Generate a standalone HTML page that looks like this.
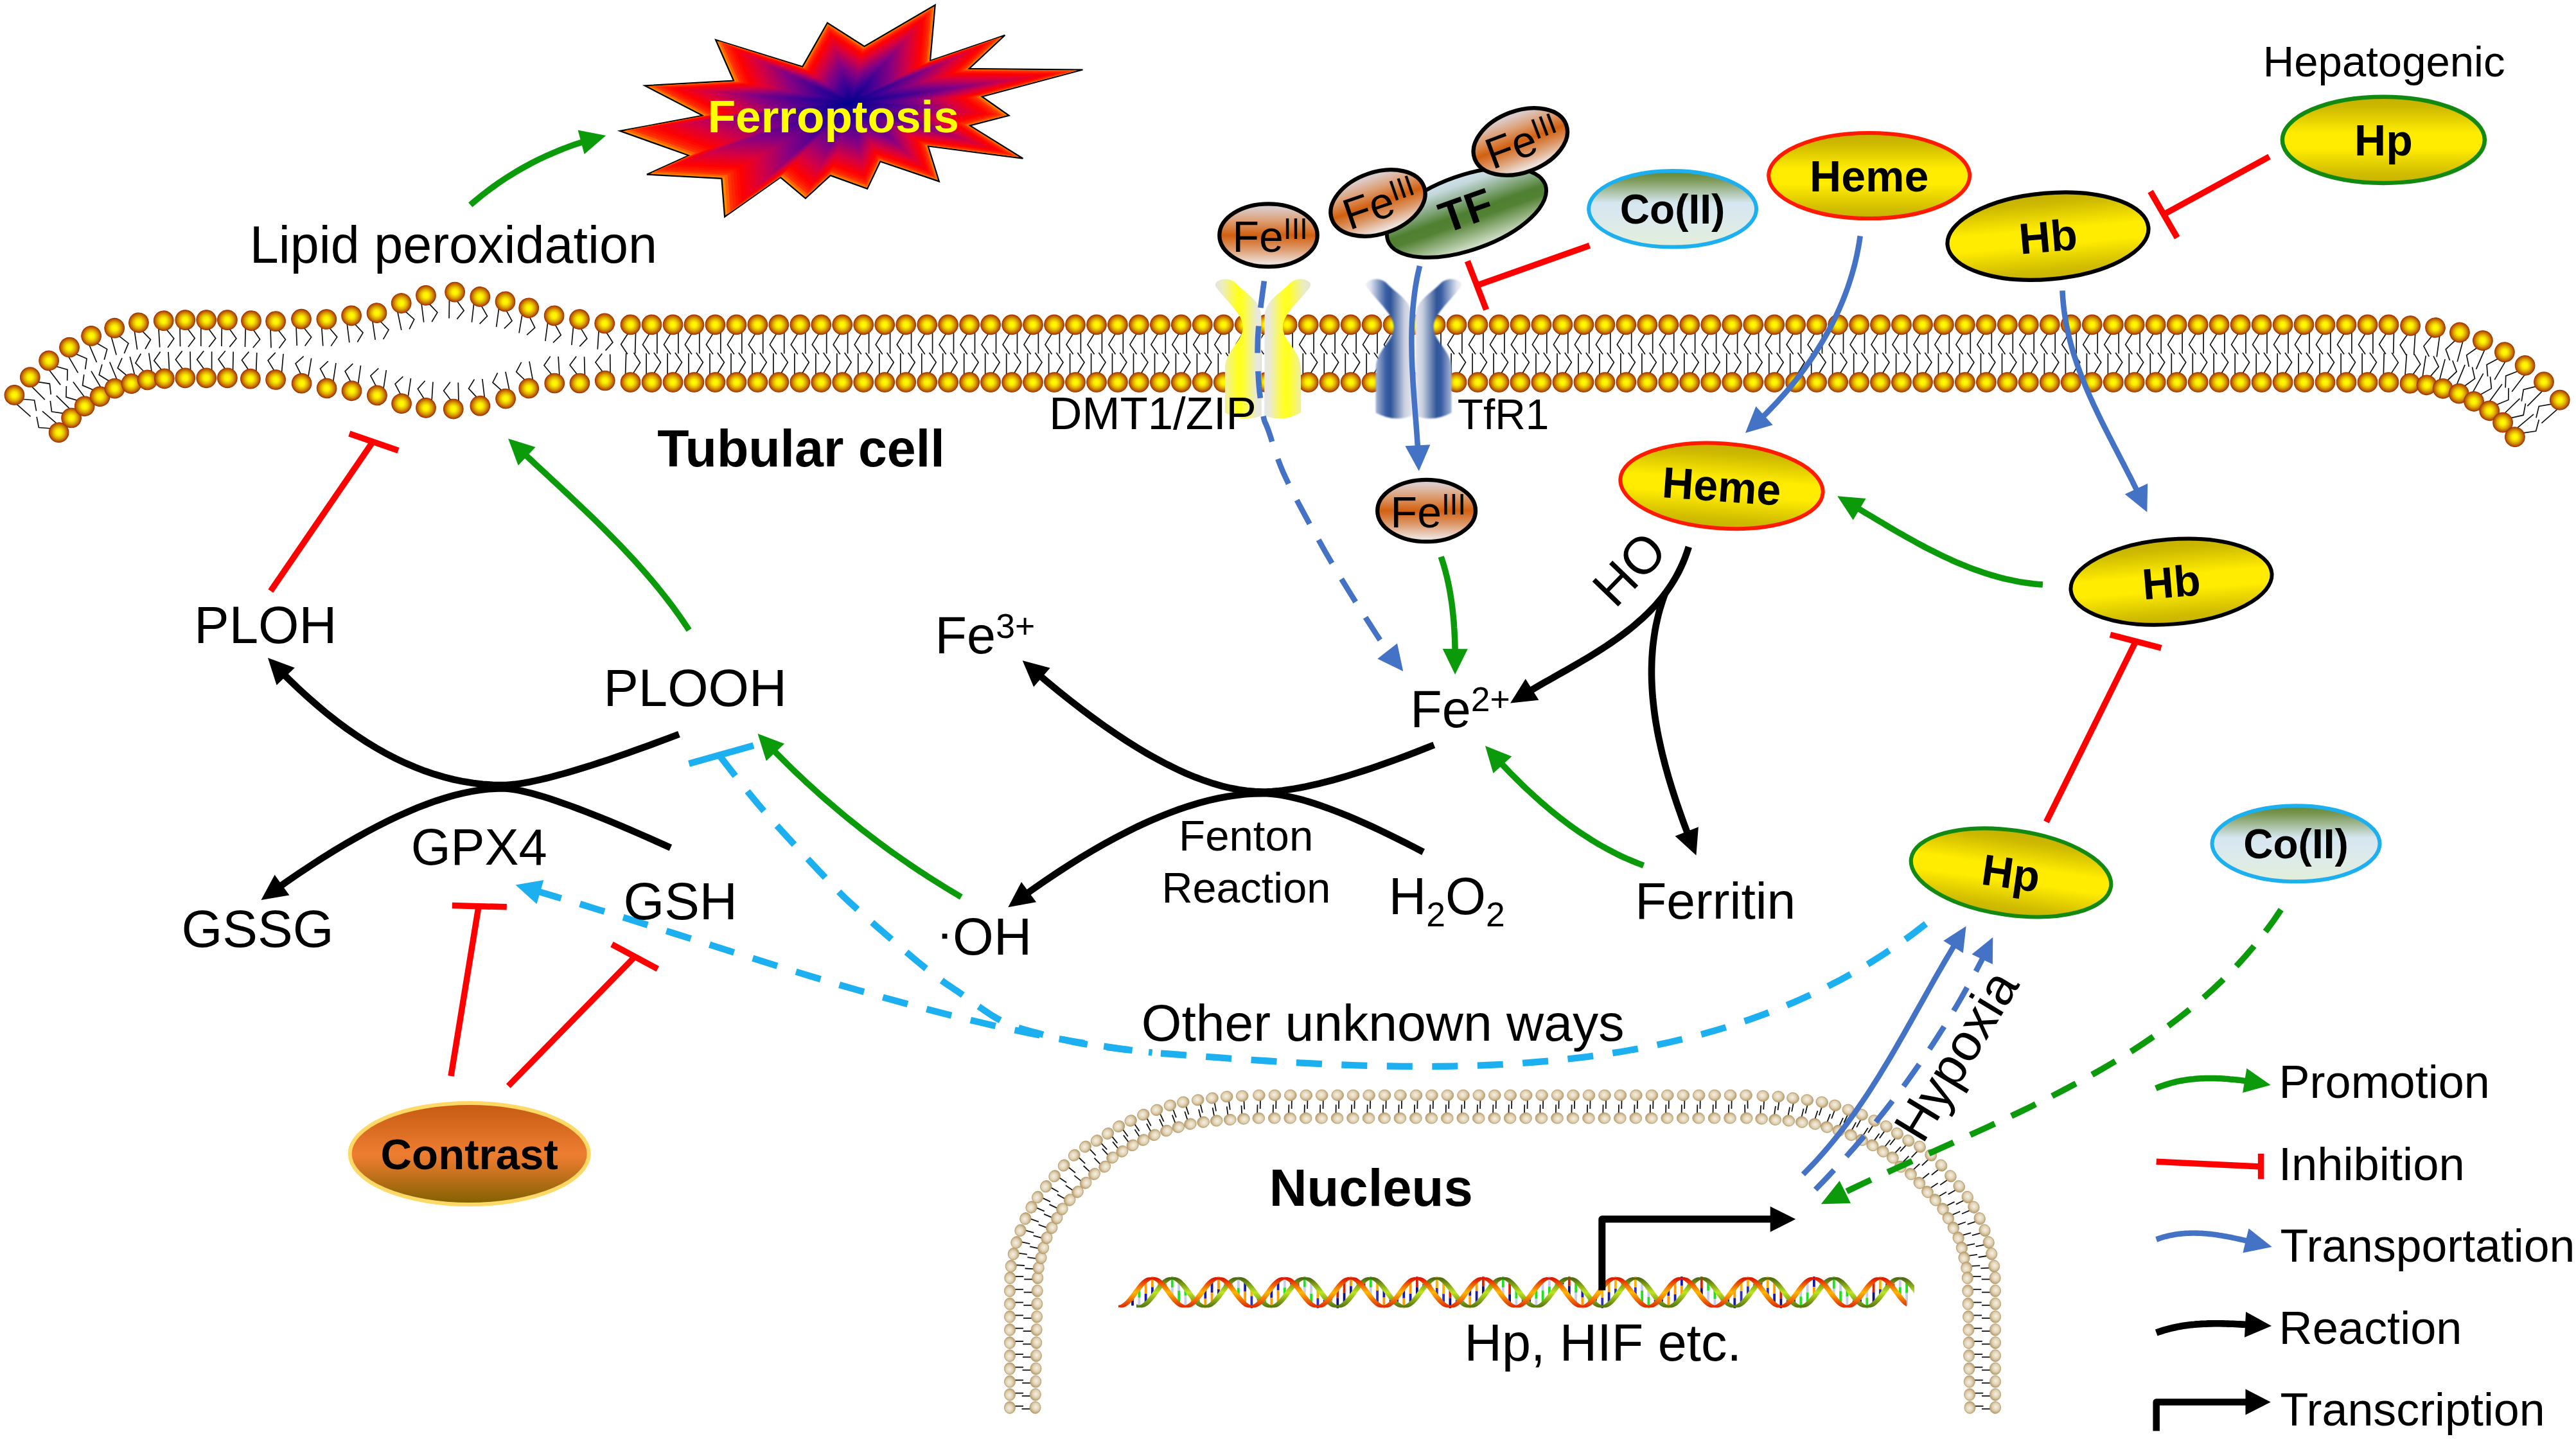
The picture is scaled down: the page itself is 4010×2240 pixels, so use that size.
<!DOCTYPE html>
<html><head><meta charset="utf-8"><title>Ferroptosis pathway</title>
<style>html,body{margin:0;padding:0;background:#fff}svg{display:block}text{font-family:"Liberation Sans",sans-serif}</style>
</head><body>
<svg xmlns="http://www.w3.org/2000/svg" xmlns:xlink="http://www.w3.org/1999/xlink" width="4010" height="2240" viewBox="0 0 4010 2240">
<defs>
<radialGradient id="hg" cx="50%" cy="50%" r="50%">
<stop offset="0" stop-color="#ffff00"/><stop offset="0.28" stop-color="#fbee00"/><stop offset="0.6" stop-color="#dfaa00"/><stop offset="0.86" stop-color="#bc6200"/><stop offset="1" stop-color="#a84000"/></radialGradient>
<g id="lp"><path d="M8.4,11 L8.4,45 M-3,13 L-14,31 L-3.4,46" fill="none" stroke="#111" stroke-width="1.7"/><circle r="15.3" fill="url(#hg)" stroke="#a43000" stroke-width="1.1"/></g>
<g id="lm"><path d="M-8.4,11 L-8.4,41 M3,13 L14.5,28.7 L4,42" fill="none" stroke="#111" stroke-width="1.7"/><circle r="15.3" fill="url(#hg)" stroke="#a43000" stroke-width="1.1"/></g>
<radialGradient id="ng" cx="45%" cy="45%" r="55%"><stop offset="0" stop-color="#f6f0e4"/><stop offset="0.55" stop-color="#e0d2b4"/><stop offset="1" stop-color="#b89c6c"/></radialGradient>
<g id="nl"><path d="M2.2,7 L2.2,21" stroke="#111" stroke-width="1.8"/><ellipse rx="9.4" ry="8.6" fill="url(#ng)" stroke="#b49a6a" stroke-width="0.8"/></g>
<linearGradient id="dgo" x1="0" y1="1990.2" x2="0" y2="2033.4" gradientUnits="userSpaceOnUse"><stop offset="0" stop-color="#e01800"/><stop offset="0.5" stop-color="#ffb800"/><stop offset="1" stop-color="#e03000"/></linearGradient>
<linearGradient id="dgg" x1="0" y1="1990.2" x2="0" y2="2033.4" gradientUnits="userSpaceOnUse"><stop offset="0" stop-color="#4f6a10"/><stop offset="0.5" stop-color="#bfe522"/><stop offset="1" stop-color="#5a7a10"/></linearGradient>
<filter id="blur1" x="-10%" y="-10%" width="120%" height="120%"><feGaussianBlur stdDeviation="0.9"/></filter>
<linearGradient id="chy" x1="-76" y1="0" x2="-3" y2="0" gradientUnits="userSpaceOnUse"><stop offset="0" stop-color="#e2e2e2"/><stop offset="0.18" stop-color="#ececc0"/><stop offset="0.5" stop-color="#ffff1e"/><stop offset="0.62" stop-color="#ffff30"/><stop offset="0.9" stop-color="#e9e9d6"/><stop offset="1" stop-color="#e6e6e6"/></linearGradient>
<linearGradient id="chb" x1="-76" y1="0" x2="-3" y2="0" gradientUnits="userSpaceOnUse"><stop offset="0" stop-color="#f2f4f8"/><stop offset="0.12" stop-color="#dfe4ee"/><stop offset="0.45" stop-color="#3a5fa4"/><stop offset="0.55" stop-color="#2f5597"/><stop offset="0.85" stop-color="#c9d0e0"/><stop offset="1" stop-color="#e4e6ee"/></linearGradient>
<linearGradient id="gy" x1="0" y1="0" x2="0" y2="1"><stop offset="0" stop-color="#c4b000"/><stop offset="0.12" stop-color="#cdb900"/><stop offset="0.42" stop-color="#ffec00"/><stop offset="0.6" stop-color="#ffec00"/><stop offset="0.9" stop-color="#cfbb00"/><stop offset="1" stop-color="#c8b400"/></linearGradient>
<linearGradient id="gfe" x1="0" y1="0" x2="0" y2="1"><stop offset="0" stop-color="#d9cdd2"/><stop offset="0.08" stop-color="#dcc8c4"/><stop offset="0.28" stop-color="#dd9c70"/><stop offset="0.5" stop-color="#d2600f"/><stop offset="0.72" stop-color="#dd9a6c"/><stop offset="0.93" stop-color="#ecdcd4"/><stop offset="1" stop-color="#f0e6e2"/></linearGradient>
<linearGradient id="gtf" x1="0" y1="0" x2="0" y2="1"><stop offset="0" stop-color="#cfe2ea"/><stop offset="0.12" stop-color="#c4d8dc"/><stop offset="0.5" stop-color="#4f7f30"/><stop offset="0.62" stop-color="#548235"/><stop offset="1" stop-color="#dbe7d4"/></linearGradient>
<linearGradient id="gco" x1="0" y1="0" x2="0" y2="1"><stop offset="0" stop-color="#5f8430"/><stop offset="0.12" stop-color="#7d9a58"/><stop offset="0.42" stop-color="#d6e6f0"/><stop offset="0.6" stop-color="#dbe9ee"/><stop offset="1" stop-color="#e3efd9"/></linearGradient>
<linearGradient id="gct" x1="0" y1="0" x2="0" y2="1"><stop offset="0" stop-color="#c55a11"/><stop offset="0.5" stop-color="#ed7d31"/><stop offset="0.56" stop-color="#e67a2c"/><stop offset="1" stop-color="#7f6000"/></linearGradient>
</defs>
<rect width="4010" height="2240" fill="#fff"/>
<g id="membrane"><use href="#lm" transform="translate(91.6,673.2) rotate(130.7)"/><use href="#lm" transform="translate(111.1,650.5) rotate(134.4)"/><use href="#lm" transform="translate(131.7,632.3) rotate(143.2)"/><use href="#lm" transform="translate(155.6,617.2) rotate(149.4)"/><use href="#lm" transform="translate(178.6,604.6) rotate(157.6)"/><use href="#lm" transform="translate(204.4,597.1) rotate(165.5)"/><use href="#lm" transform="translate(229.6,591.4) rotate(171.4)"/><use href="#lm" transform="translate(255.8,589.3) rotate(177)"/><use href="#lm" transform="translate(288.3,588.3) rotate(179.1)"/><use href="#lm" transform="translate(321.2,588.3) rotate(180)"/><use href="#lm" transform="translate(353.9,588.3) rotate(181.2)"/><use href="#lm" transform="translate(389.9,589.7) rotate(182.1)"/><use href="#lm" transform="translate(429.1,591) rotate(185)"/><use href="#lm" transform="translate(469.6,596.7) rotate(189.6)"/><use href="#lm" transform="translate(508.6,604.4) rotate(188.5)"/><use href="#lm" transform="translate(547.5,608.3) rotate(188)"/><use href="#lm" transform="translate(586.9,615.4) rotate(188.6)"/><use href="#lm" transform="translate(625.1,628.2) rotate(188.6)"/><use href="#lm" transform="translate(663,634.9) rotate(183.6)"/><use href="#lm" transform="translate(705.8,636.6) rotate(178.7)"/><use href="#lm" transform="translate(747.3,631.7) rotate(173.3)"/><use href="#lm" transform="translate(787.1,620.6) rotate(168.2)"/><use href="#lm" transform="translate(823.2,604.5) rotate(169.5)"/><use href="#lm" transform="translate(863.2,596.5) rotate(176.5)"/><use href="#lm" transform="translate(902.4,596.5) rotate(178.3)"/><use href="#lm" transform="translate(941.8,592.5) rotate(179.3)"/><use href="#lp" transform="translate(981.5,595) rotate(182)"/><use href="#lp" transform="translate(1014.5,595) rotate(180)"/><use href="#lp" transform="translate(1047.5,595) rotate(180)"/><use href="#lp" transform="translate(1080.4,595) rotate(180)"/><use href="#lp" transform="translate(1113.4,595) rotate(180)"/><use href="#lp" transform="translate(1146.4,595) rotate(180)"/><use href="#lp" transform="translate(1179.3,595) rotate(180)"/><use href="#lp" transform="translate(1212.3,595) rotate(180)"/><use href="#lp" transform="translate(1245.3,595) rotate(180)"/><use href="#lp" transform="translate(1278.3,595) rotate(180)"/><use href="#lp" transform="translate(1311.2,595) rotate(180)"/><use href="#lp" transform="translate(1344.2,595) rotate(180)"/><use href="#lp" transform="translate(1377.2,595) rotate(180)"/><use href="#lp" transform="translate(1410.2,595) rotate(180)"/><use href="#lp" transform="translate(1443.2,595) rotate(180)"/><use href="#lp" transform="translate(1476.1,595) rotate(180)"/><use href="#lp" transform="translate(1509.1,595) rotate(180)"/><use href="#lp" transform="translate(1542.1,595) rotate(180)"/><use href="#lp" transform="translate(1575.1,595) rotate(180)"/><use href="#lp" transform="translate(1608,595) rotate(180)"/><use href="#lp" transform="translate(1641,595) rotate(180)"/><use href="#lp" transform="translate(1674,595) rotate(180)"/><use href="#lp" transform="translate(1707,595) rotate(180)"/><use href="#lp" transform="translate(1739.9,595) rotate(180)"/><use href="#lp" transform="translate(1772.9,595) rotate(180)"/><use href="#lp" transform="translate(1805.9,595) rotate(180)"/><use href="#lp" transform="translate(1838.8,595) rotate(180)"/><use href="#lp" transform="translate(1871.8,595) rotate(180)"/><use href="#lp" transform="translate(1904.8,595) rotate(180)"/><use href="#lp" transform="translate(1937.8,595) rotate(180)"/><use href="#lp" transform="translate(1970.8,595) rotate(180)"/><use href="#lp" transform="translate(2003.7,595) rotate(180)"/><use href="#lp" transform="translate(2036.7,595) rotate(180)"/><use href="#lp" transform="translate(2069.7,595) rotate(180)"/><use href="#lp" transform="translate(2102.7,595) rotate(180)"/><use href="#lp" transform="translate(2135.6,595) rotate(180)"/><use href="#lp" transform="translate(2168.6,595) rotate(180)"/><use href="#lp" transform="translate(2201.6,595) rotate(180)"/><use href="#lp" transform="translate(2234.6,595) rotate(180)"/><use href="#lp" transform="translate(2267.5,595) rotate(180)"/><use href="#lp" transform="translate(2300.5,595) rotate(180)"/><use href="#lp" transform="translate(2333.5,595) rotate(180)"/><use href="#lp" transform="translate(2366.4,595) rotate(180)"/><use href="#lp" transform="translate(2399.4,595) rotate(180)"/><use href="#lp" transform="translate(2432.4,595) rotate(180)"/><use href="#lp" transform="translate(2465.4,595) rotate(180)"/><use href="#lp" transform="translate(2498.4,595) rotate(180)"/><use href="#lp" transform="translate(2531.3,595) rotate(180)"/><use href="#lp" transform="translate(2564.3,595) rotate(180)"/><use href="#lp" transform="translate(2597.3,595) rotate(180)"/><use href="#lp" transform="translate(2630.2,595) rotate(180)"/><use href="#lp" transform="translate(2663.2,595) rotate(180)"/><use href="#lp" transform="translate(2696.2,595) rotate(180)"/><use href="#lp" transform="translate(2729.2,595) rotate(180)"/><use href="#lp" transform="translate(2762.2,595) rotate(180)"/><use href="#lp" transform="translate(2795.1,595) rotate(180)"/><use href="#lp" transform="translate(2828.1,595) rotate(180)"/><use href="#lp" transform="translate(2861.1,595) rotate(180)"/><use href="#lp" transform="translate(2894.1,595) rotate(180)"/><use href="#lp" transform="translate(2927,595) rotate(180)"/><use href="#lp" transform="translate(2960,595) rotate(180)"/><use href="#lp" transform="translate(2993,595) rotate(180)"/><use href="#lp" transform="translate(3025.9,595) rotate(180)"/><use href="#lp" transform="translate(3058.9,595) rotate(180)"/><use href="#lp" transform="translate(3091.9,595) rotate(180)"/><use href="#lp" transform="translate(3124.9,595) rotate(180)"/><use href="#lp" transform="translate(3157.8,595) rotate(180)"/><use href="#lp" transform="translate(3190.8,595) rotate(180)"/><use href="#lp" transform="translate(3223.8,595) rotate(180)"/><use href="#lp" transform="translate(3256.8,595) rotate(180)"/><use href="#lp" transform="translate(3289.8,595) rotate(180)"/><use href="#lp" transform="translate(3322.7,595) rotate(180)"/><use href="#lp" transform="translate(3355.7,595) rotate(180)"/><use href="#lp" transform="translate(3388.7,595) rotate(180)"/><use href="#lp" transform="translate(3421.7,595) rotate(180)"/><use href="#lp" transform="translate(3454.6,595) rotate(180)"/><use href="#lp" transform="translate(3487.6,595) rotate(180)"/><use href="#lp" transform="translate(3520.6,595) rotate(180)"/><use href="#lp" transform="translate(3553.6,595) rotate(180)"/><use href="#lp" transform="translate(3586.5,595) rotate(180)"/><use href="#lp" transform="translate(3619.5,595) rotate(180)"/><use href="#lp" transform="translate(3652.5,595) rotate(180)"/><use href="#lp" transform="translate(3685.5,595) rotate(180)"/><use href="#lp" transform="translate(3718.4,595) rotate(181.6)"/><use href="#lp" transform="translate(3751.5,596.8) rotate(184.2)"/><use href="#lp" transform="translate(3777.6,599.3) rotate(188.9)"/><use href="#lp" transform="translate(3802.7,604.8) rotate(194.9)"/><use href="#lp" transform="translate(3827.7,612.6) rotate(202.5)"/><use href="#lp" transform="translate(3851,624.8) rotate(209.3)"/><use href="#lp" transform="translate(3875.2,639.3) rotate(216.1)"/><use href="#lp" transform="translate(3896.1,657.7) rotate(225.9)"/><use href="#lp" transform="translate(3914.9,680.2) rotate(230.1)"/><use href="#lm" transform="translate(22.4,614.9) rotate(-48.6)"/><use href="#lm" transform="translate(46.8,587.2) rotate(-44.9)"/><use href="#lm" transform="translate(76.1,561.4) rotate(-37.2)"/><use href="#lm" transform="translate(108,540.7) rotate(-30.3)"/><use href="#lm" transform="translate(142.1,522.9) rotate(-23.1)"/><use href="#lm" transform="translate(178.2,510.7) rotate(-15.6)"/><use href="#lm" transform="translate(215.9,502.3) rotate(-8.5)"/><use href="#lm" transform="translate(254.7,499.2) rotate(-3.3)"/><use href="#lm" transform="translate(288.3,498.1) rotate(-0.9)"/><use href="#lm" transform="translate(321.2,498.1) rotate(0)"/><use href="#lm" transform="translate(353.9,498.1) rotate(0.9)"/><use href="#lm" transform="translate(391,499.2) rotate(1.6)"/><use href="#lm" transform="translate(429.1,500.2) rotate(-1.8)"/><use href="#lm" transform="translate(469,496.7) rotate(-2.3)"/><use href="#lm" transform="translate(508.3,497) rotate(-4)"/><use href="#lm" transform="translate(547.1,491.3) rotate(-7.2)"/><use href="#lm" transform="translate(586.5,487.1) rotate(-8.4)"/><use href="#lm" transform="translate(624.7,472) rotate(-11.8)"/><use href="#lm" transform="translate(663,459.8) rotate(-7.1)"/><use href="#lm" transform="translate(708.1,454.6) rotate(0.9)"/><use href="#lm" transform="translate(747.3,461.9) rotate(6.4)"/><use href="#lm" transform="translate(786.5,469.3) rotate(7.7)"/><use href="#lm" transform="translate(823.2,479.3) rotate(9.7)"/><use href="#lm" transform="translate(862.6,491.3) rotate(7.6)"/><use href="#lm" transform="translate(902,497.1) rotate(5.3)"/><use href="#lm" transform="translate(941.2,503.4) rotate(3.6)"/><use href="#lp" transform="translate(981.5,505.4) rotate(1.6)"/><use href="#lp" transform="translate(1014.5,505.4) rotate(0)"/><use href="#lp" transform="translate(1047.5,505.4) rotate(0)"/><use href="#lp" transform="translate(1080.4,505.4) rotate(0)"/><use href="#lp" transform="translate(1113.4,505.4) rotate(0)"/><use href="#lp" transform="translate(1146.4,505.4) rotate(0)"/><use href="#lp" transform="translate(1179.3,505.4) rotate(0)"/><use href="#lp" transform="translate(1212.3,505.4) rotate(0)"/><use href="#lp" transform="translate(1245.3,505.4) rotate(0)"/><use href="#lp" transform="translate(1278.3,505.4) rotate(0)"/><use href="#lp" transform="translate(1311.2,505.4) rotate(0)"/><use href="#lp" transform="translate(1344.2,505.4) rotate(0)"/><use href="#lp" transform="translate(1377.2,505.4) rotate(0)"/><use href="#lp" transform="translate(1410.2,505.4) rotate(0)"/><use href="#lp" transform="translate(1443.2,505.4) rotate(0)"/><use href="#lp" transform="translate(1476.1,505.4) rotate(0)"/><use href="#lp" transform="translate(1509.1,505.4) rotate(0)"/><use href="#lp" transform="translate(1542.1,505.4) rotate(0)"/><use href="#lp" transform="translate(1575.1,505.4) rotate(0)"/><use href="#lp" transform="translate(1608,505.4) rotate(0)"/><use href="#lp" transform="translate(1641,505.4) rotate(0)"/><use href="#lp" transform="translate(1674,505.4) rotate(0)"/><use href="#lp" transform="translate(1707,505.4) rotate(0)"/><use href="#lp" transform="translate(1739.9,505.4) rotate(0)"/><use href="#lp" transform="translate(1772.9,505.4) rotate(0)"/><use href="#lp" transform="translate(1805.9,505.4) rotate(0)"/><use href="#lp" transform="translate(1838.8,505.4) rotate(0)"/><use href="#lp" transform="translate(1871.8,505.4) rotate(0)"/><use href="#lp" transform="translate(1904.8,505.4) rotate(0)"/><use href="#lp" transform="translate(1937.8,505.4) rotate(0)"/><use href="#lp" transform="translate(1970.8,505.4) rotate(0)"/><use href="#lp" transform="translate(2003.7,505.4) rotate(0)"/><use href="#lp" transform="translate(2036.7,505.4) rotate(0)"/><use href="#lp" transform="translate(2069.7,505.4) rotate(0)"/><use href="#lp" transform="translate(2102.7,505.4) rotate(0)"/><use href="#lp" transform="translate(2135.6,505.4) rotate(0)"/><use href="#lp" transform="translate(2168.6,505.4) rotate(0)"/><use href="#lp" transform="translate(2201.6,505.4) rotate(0)"/><use href="#lp" transform="translate(2234.6,505.4) rotate(0)"/><use href="#lp" transform="translate(2267.5,505.4) rotate(0)"/><use href="#lp" transform="translate(2300.5,505.4) rotate(0)"/><use href="#lp" transform="translate(2333.5,505.4) rotate(0)"/><use href="#lp" transform="translate(2366.4,505.4) rotate(0)"/><use href="#lp" transform="translate(2399.4,505.4) rotate(0)"/><use href="#lp" transform="translate(2432.4,505.4) rotate(0)"/><use href="#lp" transform="translate(2465.4,505.4) rotate(0)"/><use href="#lp" transform="translate(2498.4,505.4) rotate(0)"/><use href="#lp" transform="translate(2531.3,505.4) rotate(0)"/><use href="#lp" transform="translate(2564.3,505.4) rotate(0)"/><use href="#lp" transform="translate(2597.3,505.4) rotate(0)"/><use href="#lp" transform="translate(2630.2,505.4) rotate(0)"/><use href="#lp" transform="translate(2663.2,505.4) rotate(0)"/><use href="#lp" transform="translate(2696.2,505.4) rotate(0)"/><use href="#lp" transform="translate(2729.2,505.4) rotate(0)"/><use href="#lp" transform="translate(2762.2,505.4) rotate(0)"/><use href="#lp" transform="translate(2795.1,505.4) rotate(0)"/><use href="#lp" transform="translate(2828.1,505.4) rotate(0)"/><use href="#lp" transform="translate(2861.1,505.4) rotate(0)"/><use href="#lp" transform="translate(2894.1,505.4) rotate(0)"/><use href="#lp" transform="translate(2927,505.4) rotate(0)"/><use href="#lp" transform="translate(2960,505.4) rotate(0)"/><use href="#lp" transform="translate(2993,505.4) rotate(0)"/><use href="#lp" transform="translate(3025.9,505.4) rotate(0)"/><use href="#lp" transform="translate(3058.9,505.4) rotate(0)"/><use href="#lp" transform="translate(3091.9,505.4) rotate(0)"/><use href="#lp" transform="translate(3124.9,505.4) rotate(0)"/><use href="#lp" transform="translate(3157.8,505.4) rotate(0)"/><use href="#lp" transform="translate(3190.8,505.4) rotate(0)"/><use href="#lp" transform="translate(3223.8,505.4) rotate(0)"/><use href="#lp" transform="translate(3256.8,505.4) rotate(0)"/><use href="#lp" transform="translate(3289.8,505.4) rotate(0)"/><use href="#lp" transform="translate(3322.7,505.4) rotate(0)"/><use href="#lp" transform="translate(3355.7,505.4) rotate(0)"/><use href="#lp" transform="translate(3388.7,505.4) rotate(0)"/><use href="#lp" transform="translate(3421.7,505.4) rotate(0)"/><use href="#lp" transform="translate(3454.6,505.4) rotate(0)"/><use href="#lp" transform="translate(3487.6,505.4) rotate(0)"/><use href="#lp" transform="translate(3520.6,505.4) rotate(0)"/><use href="#lp" transform="translate(3553.6,505.4) rotate(0)"/><use href="#lp" transform="translate(3586.5,505.4) rotate(0)"/><use href="#lp" transform="translate(3619.5,505.4) rotate(0)"/><use href="#lp" transform="translate(3652.5,505.4) rotate(0)"/><use href="#lp" transform="translate(3685.5,505.4) rotate(0)"/><use href="#lp" transform="translate(3718.4,505.4) rotate(1.4)"/><use href="#lp" transform="translate(3752.1,507) rotate(3.6)"/><use href="#lp" transform="translate(3791,510) rotate(7.8)"/><use href="#lp" transform="translate(3828.9,517.5) rotate(15.2)"/><use href="#lp" transform="translate(3864.9,530.1) rotate(23.6)"/><use href="#lp" transform="translate(3898.9,548.1) rotate(30.6)"/><use href="#lp" transform="translate(3930.6,568.9) rotate(37.1)"/><use href="#lp" transform="translate(3960,594.3) rotate(44.7)"/><use href="#lp" transform="translate(3984.8,622.6) rotate(48.8)"/></g>
<g id="nucleus"><use href="#nl" transform="translate(1572,2191) rotate(-90)"/><use href="#nl" transform="translate(1611.5,2191) rotate(90)"/><use href="#nl" transform="translate(1572,2170.8) rotate(-90)"/><use href="#nl" transform="translate(1611.8,2170.8) rotate(90)"/><use href="#nl" transform="translate(1572,2150.6) rotate(-90)"/><use href="#nl" transform="translate(1612.2,2150.6) rotate(90)"/><use href="#nl" transform="translate(1572,2130.5) rotate(-90)"/><use href="#nl" transform="translate(1612.5,2130.5) rotate(90)"/><use href="#nl" transform="translate(1572,2110.3) rotate(-90)"/><use href="#nl" transform="translate(1612.9,2110.3) rotate(90)"/><use href="#nl" transform="translate(1572,2090.1) rotate(-90)"/><use href="#nl" transform="translate(1613.2,2090.1) rotate(90)"/><use href="#nl" transform="translate(1572,2069.9) rotate(-90)"/><use href="#nl" transform="translate(1613.6,2069.9) rotate(90)"/><use href="#nl" transform="translate(1572,2049.7) rotate(-90)"/><use href="#nl" transform="translate(1614,2049.7) rotate(90)"/><use href="#nl" transform="translate(1572,2029.6) rotate(-90)"/><use href="#nl" transform="translate(1614.3,2029.6) rotate(90)"/><use href="#nl" transform="translate(1572,2009.4) rotate(-90)"/><use href="#nl" transform="translate(1614.7,2009.4) rotate(90)"/><use href="#nl" transform="translate(1572.3,1989.2) rotate(-90)"/><use href="#nl" transform="translate(1615.2,1989.2) rotate(90)"/><use href="#nl" transform="translate(1573.8,1970.9) rotate(-86.4)"/><use href="#nl" transform="translate(1616.7,1973.6) rotate(93.6)"/><use href="#nl" transform="translate(1577.8,1951.8) rotate(-81.7)"/><use href="#nl" transform="translate(1620.5,1958) rotate(98.3)"/><use href="#nl" transform="translate(1582.3,1934) rotate(-78.5)"/><use href="#nl" transform="translate(1624.1,1942.5) rotate(101.5)"/><use href="#nl" transform="translate(1588.5,1915.3) rotate(-74.2)"/><use href="#nl" transform="translate(1629.4,1926.9) rotate(105.8)"/><use href="#nl" transform="translate(1596.3,1896.9) rotate(-70.6)"/><use href="#nl" transform="translate(1637.2,1911.3) rotate(109.4)"/><use href="#nl" transform="translate(1605.6,1879.1) rotate(-66.6)"/><use href="#nl" transform="translate(1645.2,1896.2) rotate(113.4)"/><use href="#nl" transform="translate(1615.2,1863.5) rotate(-64.2)"/><use href="#nl" transform="translate(1653.4,1882) rotate(115.8)"/><use href="#nl" transform="translate(1628.3,1846.8) rotate(-60.2)"/><use href="#nl" transform="translate(1665.2,1867.9) rotate(119.8)"/><use href="#nl" transform="translate(1641.6,1830.8) rotate(-55.7)"/><use href="#nl" transform="translate(1677.5,1855.3) rotate(124.3)"/><use href="#nl" transform="translate(1656.1,1814.1) rotate(-51.3)"/><use href="#nl" transform="translate(1690.1,1841.3) rotate(128.7)"/><use href="#nl" transform="translate(1672.3,1798.3) rotate(-46.9)"/><use href="#nl" transform="translate(1703.5,1827.5) rotate(133.1)"/><use href="#nl" transform="translate(1689.5,1785) rotate(-44.2)"/><use href="#nl" transform="translate(1719.7,1816.1) rotate(135.8)"/><use href="#nl" transform="translate(1707.3,1775.6) rotate(-42.9)"/><use href="#nl" transform="translate(1731.7,1801.9) rotate(137.1)"/><use href="#nl" transform="translate(1724.6,1764.5) rotate(-38.7)"/><use href="#nl" transform="translate(1746.9,1792.3) rotate(141.3)"/><use href="#nl" transform="translate(1741.7,1753.4) rotate(-36.1)"/><use href="#nl" transform="translate(1763.1,1782.8) rotate(143.9)"/><use href="#nl" transform="translate(1760.2,1744.5) rotate(-33.2)"/><use href="#nl" transform="translate(1779.8,1774.5) rotate(146.8)"/><use href="#nl" transform="translate(1779.8,1735.2) rotate(-28.5)"/><use href="#nl" transform="translate(1796.9,1766.7) rotate(151.5)"/><use href="#nl" transform="translate(1800.7,1727.8) rotate(-25.1)"/><use href="#nl" transform="translate(1815.8,1760.1) rotate(154.9)"/><use href="#nl" transform="translate(1821.4,1720.7) rotate(-20.9)"/><use href="#nl" transform="translate(1834.3,1754.5) rotate(159.1)"/><use href="#nl" transform="translate(1841.8,1715.6) rotate(-18.1)"/><use href="#nl" transform="translate(1852.9,1749.6) rotate(161.9)"/><use href="#nl" transform="translate(1864.7,1712.3) rotate(-13.9)"/><use href="#nl" transform="translate(1873.2,1746.7) rotate(166.1)"/><use href="#nl" transform="translate(1887,1709.4) rotate(-10.8)"/><use href="#nl" transform="translate(1893.7,1744.5) rotate(169.2)"/><use href="#nl" transform="translate(1909.7,1707.1) rotate(-8.1)"/><use href="#nl" transform="translate(1914.8,1742.9) rotate(171.9)"/><use href="#nl" transform="translate(1933.7,1706) rotate(-3.5)"/><use href="#nl" transform="translate(1935.9,1741.6) rotate(176.5)"/><use href="#nl" transform="translate(1959.9,1704.9) rotate(1)"/><use href="#nl" transform="translate(1959.3,1740.5) rotate(181)"/><use href="#nl" transform="translate(1984.4,1704.9) rotate(1)"/><use href="#nl" transform="translate(1983.8,1740.5) rotate(181)"/><use href="#nl" transform="translate(2008.8,1704.9) rotate(1)"/><use href="#nl" transform="translate(2008.2,1740.5) rotate(181)"/><use href="#nl" transform="translate(2033.3,1704.9) rotate(1)"/><use href="#nl" transform="translate(2032.7,1740.5) rotate(181)"/><use href="#nl" transform="translate(2057.7,1704.9) rotate(1)"/><use href="#nl" transform="translate(2057.1,1740.5) rotate(181)"/><use href="#nl" transform="translate(2082.2,1704.9) rotate(1)"/><use href="#nl" transform="translate(2081.6,1740.5) rotate(181)"/><use href="#nl" transform="translate(2106.6,1704.9) rotate(1)"/><use href="#nl" transform="translate(2106,1740.5) rotate(181)"/><use href="#nl" transform="translate(2131.1,1704.9) rotate(1)"/><use href="#nl" transform="translate(2130.5,1740.5) rotate(181)"/><use href="#nl" transform="translate(2155.6,1704.9) rotate(1)"/><use href="#nl" transform="translate(2155,1740.5) rotate(181)"/><use href="#nl" transform="translate(2180,1704.9) rotate(1)"/><use href="#nl" transform="translate(2179.4,1740.5) rotate(181)"/><use href="#nl" transform="translate(2204.5,1704.9) rotate(1)"/><use href="#nl" transform="translate(2203.9,1740.5) rotate(181)"/><use href="#nl" transform="translate(2228.9,1704.9) rotate(1)"/><use href="#nl" transform="translate(2228.3,1740.5) rotate(181)"/><use href="#nl" transform="translate(2253.4,1704.9) rotate(1)"/><use href="#nl" transform="translate(2252.8,1740.5) rotate(181)"/><use href="#nl" transform="translate(2277.9,1704.9) rotate(1)"/><use href="#nl" transform="translate(2277.3,1740.5) rotate(181)"/><use href="#nl" transform="translate(2302.3,1704.9) rotate(1)"/><use href="#nl" transform="translate(2301.7,1740.5) rotate(181)"/><use href="#nl" transform="translate(2326.8,1704.9) rotate(1)"/><use href="#nl" transform="translate(2326.2,1740.5) rotate(181)"/><use href="#nl" transform="translate(2351.2,1704.9) rotate(1)"/><use href="#nl" transform="translate(2350.6,1740.5) rotate(181)"/><use href="#nl" transform="translate(2375.7,1704.9) rotate(1)"/><use href="#nl" transform="translate(2375.1,1740.5) rotate(181)"/><use href="#nl" transform="translate(2400.1,1704.9) rotate(1)"/><use href="#nl" transform="translate(2399.5,1740.5) rotate(181)"/><use href="#nl" transform="translate(2424.6,1704.9) rotate(1)"/><use href="#nl" transform="translate(2424,1740.5) rotate(181)"/><use href="#nl" transform="translate(2449.1,1704.9) rotate(1)"/><use href="#nl" transform="translate(2448.5,1740.5) rotate(181)"/><use href="#nl" transform="translate(2473.5,1704.9) rotate(1)"/><use href="#nl" transform="translate(2472.9,1740.5) rotate(181)"/><use href="#nl" transform="translate(2498,1704.9) rotate(1)"/><use href="#nl" transform="translate(2497.4,1740.5) rotate(181)"/><use href="#nl" transform="translate(2522.4,1704.9) rotate(1)"/><use href="#nl" transform="translate(2521.8,1740.5) rotate(181)"/><use href="#nl" transform="translate(2546.9,1704.9) rotate(1)"/><use href="#nl" transform="translate(2546.3,1740.5) rotate(181)"/><use href="#nl" transform="translate(2571.4,1704.9) rotate(1)"/><use href="#nl" transform="translate(2570.8,1740.5) rotate(181)"/><use href="#nl" transform="translate(2595.8,1704.9) rotate(1)"/><use href="#nl" transform="translate(2595.2,1740.5) rotate(181)"/><use href="#nl" transform="translate(2620.3,1704.9) rotate(1)"/><use href="#nl" transform="translate(2619.7,1740.5) rotate(181)"/><use href="#nl" transform="translate(2644.7,1704.9) rotate(1)"/><use href="#nl" transform="translate(2644.1,1740.5) rotate(181)"/><use href="#nl" transform="translate(2669.2,1704.9) rotate(1)"/><use href="#nl" transform="translate(2668.6,1740.5) rotate(181)"/><use href="#nl" transform="translate(2693.6,1704.9) rotate(1)"/><use href="#nl" transform="translate(2693,1740.5) rotate(181)"/><use href="#nl" transform="translate(2718.1,1704.9) rotate(-1)"/><use href="#nl" transform="translate(2718.7,1740.5) rotate(179)"/><use href="#nl" transform="translate(2744.3,1706) rotate(3.5)"/><use href="#nl" transform="translate(2742.1,1741.6) rotate(183.5)"/><use href="#nl" transform="translate(2768.3,1707.1) rotate(8.1)"/><use href="#nl" transform="translate(2763.2,1742.9) rotate(188.1)"/><use href="#nl" transform="translate(2791,1709.4) rotate(10.8)"/><use href="#nl" transform="translate(2784.3,1744.5) rotate(190.8)"/><use href="#nl" transform="translate(2813.3,1712.3) rotate(13.9)"/><use href="#nl" transform="translate(2804.8,1746.7) rotate(193.9)"/><use href="#nl" transform="translate(2836.2,1715.6) rotate(18.1)"/><use href="#nl" transform="translate(2825.1,1749.6) rotate(198.1)"/><use href="#nl" transform="translate(2856.6,1720.7) rotate(20.9)"/><use href="#nl" transform="translate(2843.7,1754.5) rotate(200.9)"/><use href="#nl" transform="translate(2877.3,1727.8) rotate(25.1)"/><use href="#nl" transform="translate(2862.2,1760.1) rotate(205.1)"/><use href="#nl" transform="translate(2898.2,1735.2) rotate(28.5)"/><use href="#nl" transform="translate(2881.1,1766.7) rotate(208.5)"/><use href="#nl" transform="translate(2917.8,1744.5) rotate(33.2)"/><use href="#nl" transform="translate(2898.2,1774.5) rotate(213.2)"/><use href="#nl" transform="translate(2936.3,1753.4) rotate(36.1)"/><use href="#nl" transform="translate(2914.9,1782.8) rotate(216.1)"/><use href="#nl" transform="translate(2953.4,1764.5) rotate(38.7)"/><use href="#nl" transform="translate(2931.1,1792.3) rotate(218.7)"/><use href="#nl" transform="translate(2970.7,1775.6) rotate(42.9)"/><use href="#nl" transform="translate(2946.3,1801.9) rotate(222.9)"/><use href="#nl" transform="translate(2988.5,1785) rotate(44.2)"/><use href="#nl" transform="translate(2958.3,1816.1) rotate(224.2)"/><use href="#nl" transform="translate(3005.7,1798.3) rotate(46.9)"/><use href="#nl" transform="translate(2974.5,1827.5) rotate(226.9)"/><use href="#nl" transform="translate(3021.9,1814.1) rotate(51.3)"/><use href="#nl" transform="translate(2987.9,1841.3) rotate(231.3)"/><use href="#nl" transform="translate(3036.4,1830.8) rotate(55.7)"/><use href="#nl" transform="translate(3000.5,1855.3) rotate(235.7)"/><use href="#nl" transform="translate(3049.7,1846.8) rotate(60.2)"/><use href="#nl" transform="translate(3012.8,1867.9) rotate(240.2)"/><use href="#nl" transform="translate(3062.8,1863.5) rotate(64.2)"/><use href="#nl" transform="translate(3024.6,1882) rotate(244.2)"/><use href="#nl" transform="translate(3072.4,1879.1) rotate(66.6)"/><use href="#nl" transform="translate(3032.8,1896.2) rotate(246.6)"/><use href="#nl" transform="translate(3081.7,1896.9) rotate(70.6)"/><use href="#nl" transform="translate(3040.8,1911.3) rotate(250.6)"/><use href="#nl" transform="translate(3089.5,1915.3) rotate(74.2)"/><use href="#nl" transform="translate(3048.6,1926.9) rotate(254.2)"/><use href="#nl" transform="translate(3095.7,1934) rotate(78.5)"/><use href="#nl" transform="translate(3053.9,1942.5) rotate(258.5)"/><use href="#nl" transform="translate(3100.2,1951.8) rotate(81.7)"/><use href="#nl" transform="translate(3057.5,1958) rotate(261.7)"/><use href="#nl" transform="translate(3104.2,1970.9) rotate(86.4)"/><use href="#nl" transform="translate(3061.3,1973.6) rotate(266.4)"/><use href="#nl" transform="translate(3105.7,1989.2) rotate(90)"/><use href="#nl" transform="translate(3062.8,1989.2) rotate(270)"/><use href="#nl" transform="translate(3106,2009.4) rotate(90)"/><use href="#nl" transform="translate(3063.3,2009.4) rotate(270)"/><use href="#nl" transform="translate(3106,2029.6) rotate(90)"/><use href="#nl" transform="translate(3063.7,2029.6) rotate(270)"/><use href="#nl" transform="translate(3106,2049.7) rotate(90)"/><use href="#nl" transform="translate(3064.1,2049.7) rotate(270)"/><use href="#nl" transform="translate(3106,2069.9) rotate(90)"/><use href="#nl" transform="translate(3064.4,2069.9) rotate(270)"/><use href="#nl" transform="translate(3106,2090.1) rotate(90)"/><use href="#nl" transform="translate(3064.8,2090.1) rotate(270)"/><use href="#nl" transform="translate(3106,2110.3) rotate(90)"/><use href="#nl" transform="translate(3065.1,2110.3) rotate(270)"/><use href="#nl" transform="translate(3106,2130.5) rotate(90)"/><use href="#nl" transform="translate(3065.4,2130.5) rotate(270)"/><use href="#nl" transform="translate(3106,2150.6) rotate(90)"/><use href="#nl" transform="translate(3065.8,2150.6) rotate(270)"/><use href="#nl" transform="translate(3106,2170.8) rotate(90)"/><use href="#nl" transform="translate(3066.2,2170.8) rotate(270)"/><use href="#nl" transform="translate(3106,2191) rotate(90)"/><use href="#nl" transform="translate(3066.5,2191) rotate(270)"/></g>
<g id="dna"><path d="M1763,2015.1 V2024.7" stroke="#e02000" stroke-width="3.8"/><path d="M1763,2024.7 V2032.4" stroke="#101080" stroke-width="3.8"/><path d="M1773.3,2001.8 V2019.9" stroke="#22e022" stroke-width="3.8"/><path d="M1773.3,2019.9 V2036.4" stroke="#c8cdea" stroke-width="3.8"/><path d="M1783.6,1991.1 V2013.9" stroke="#ff9a00" stroke-width="3.8"/><path d="M1783.6,2013.9 V2032.2" stroke="#1a1aa8" stroke-width="3.8"/><path d="M1793.9,1987.2 V2003.5" stroke="#ff9a00" stroke-width="3.8"/><path d="M1793.9,2003.5 V2021.3" stroke="#1a1aa8" stroke-width="3.8"/><path d="M1804.2,1991.6 V2000.6" stroke="#ff9a00" stroke-width="3.8"/><path d="M1804.2,2000.6 V2008" stroke="#1a1aa8" stroke-width="3.8"/><path d="M1814.5,1991.2 V1998.8" stroke="#c8cdea" stroke-width="3.8"/><path d="M1814.5,1998.8 V2008.5" stroke="#22e022" stroke-width="3.8"/><path d="M1824.8,1987.2 V2004.1" stroke="#22e022" stroke-width="3.8"/><path d="M1824.8,2004.1 V2021.8" stroke="#c8cdea" stroke-width="3.8"/><path d="M1835.1,1991.4 V2009.1" stroke="#c8cdea" stroke-width="3.8"/><path d="M1835.1,2009.1 V2032.5" stroke="#22e022" stroke-width="3.8"/><path d="M1845.4,2002.3 V2016.8" stroke="#22e022" stroke-width="3.8"/><path d="M1845.4,2016.8 V2036.4" stroke="#c8cdea" stroke-width="3.8"/><path d="M1855.7,2015.6 V2023" stroke="#1a1aa8" stroke-width="3.8"/><path d="M1855.7,2023 V2032" stroke="#ff9a00" stroke-width="3.8"/><path d="M1866,2015.1 V2024" stroke="#c8cdea" stroke-width="3.8"/><path d="M1866,2024 V2032.4" stroke="#22e022" stroke-width="3.8"/><path d="M1876.3,2001.8 V2021.6" stroke="#1a1aa8" stroke-width="3.8"/><path d="M1876.3,2021.6 V2036.4" stroke="#ff9a00" stroke-width="3.8"/><path d="M1886.6,1991.1 V2012.2" stroke="#1a1aa8" stroke-width="3.8"/><path d="M1886.6,2012.2 V2032.2" stroke="#ff9a00" stroke-width="3.8"/><path d="M1896.9,1987.2 V2007" stroke="#ff9a00" stroke-width="3.8"/><path d="M1896.9,2007 V2021.3" stroke="#1a1aa8" stroke-width="3.8"/><path d="M1907.2,1991.6 V1999.9" stroke="#ff9a00" stroke-width="3.8"/><path d="M1907.2,1999.9 V2008" stroke="#1a1aa8" stroke-width="3.8"/><path d="M1917.5,1991.2 V1999.4" stroke="#c8cdea" stroke-width="3.8"/><path d="M1917.5,1999.4 V2008.5" stroke="#22e022" stroke-width="3.8"/><path d="M1927.8,1987.2 V2004.8" stroke="#c8cdea" stroke-width="3.8"/><path d="M1927.8,2004.8 V2021.8" stroke="#22e022" stroke-width="3.8"/><path d="M1938.1,1991.4 V2010.6" stroke="#1a1aa8" stroke-width="3.8"/><path d="M1938.1,2010.6 V2032.5" stroke="#ff9a00" stroke-width="3.8"/><path d="M1948.4,2002.3 V2017.5" stroke="#ffb000" stroke-width="3.8"/><path d="M1948.4,2017.5 V2036.4" stroke="#3030c0" stroke-width="3.8"/><path d="M1958.7,2015.6 V2024" stroke="#1a1aa8" stroke-width="3.8"/><path d="M1958.7,2024 V2032" stroke="#ff9a00" stroke-width="3.8"/><path d="M1969,2015.1 V2023.4" stroke="#c8cdea" stroke-width="3.8"/><path d="M1969,2023.4 V2032.4" stroke="#22e022" stroke-width="3.8"/><path d="M1979.3,2001.8 V2020.3" stroke="#1a1aa8" stroke-width="3.8"/><path d="M1979.3,2020.3 V2036.4" stroke="#ff9a00" stroke-width="3.8"/><path d="M1989.6,1991.1 V2008.6" stroke="#1a1aa8" stroke-width="3.8"/><path d="M1989.6,2008.6 V2032.2" stroke="#ff9a00" stroke-width="3.8"/><path d="M1999.9,1987.2 V2004.3" stroke="#c8cdea" stroke-width="3.8"/><path d="M1999.9,2004.3 V2021.3" stroke="#22e022" stroke-width="3.8"/><path d="M2010.2,1991.6 V1999.6" stroke="#1a1aa8" stroke-width="3.8"/><path d="M2010.2,1999.6 V2008" stroke="#ff9a00" stroke-width="3.8"/><path d="M2020.5,1991.2 V1999.8" stroke="#e02000" stroke-width="3.8"/><path d="M2020.5,1999.8 V2008.5" stroke="#101080" stroke-width="3.8"/><path d="M2030.8,1987.2 V2003.7" stroke="#22e022" stroke-width="3.8"/><path d="M2030.8,2003.7 V2021.8" stroke="#c8cdea" stroke-width="3.8"/><path d="M2041.1,1991.4 V2014" stroke="#c8cdea" stroke-width="3.8"/><path d="M2041.1,2014 V2032.5" stroke="#22e022" stroke-width="3.8"/><path d="M2051.4,2002.3 V2020.9" stroke="#ffb000" stroke-width="3.8"/><path d="M2051.4,2020.9 V2036.4" stroke="#3030c0" stroke-width="3.8"/><path d="M2061.7,2015.6 V2024" stroke="#ff9a00" stroke-width="3.8"/><path d="M2061.7,2024 V2032" stroke="#1a1aa8" stroke-width="3.8"/><path d="M2072,2015.1 V2023.7" stroke="#1a1aa8" stroke-width="3.8"/><path d="M2072,2023.7 V2032.4" stroke="#ff9a00" stroke-width="3.8"/><path d="M2082.3,2001.8 V2020.4" stroke="#e02000" stroke-width="3.8"/><path d="M2082.3,2020.4 V2036.4" stroke="#101080" stroke-width="3.8"/><path d="M2092.6,1991.1 V2012.4" stroke="#e02000" stroke-width="3.8"/><path d="M2092.6,2012.4 V2032.2" stroke="#101080" stroke-width="3.8"/><path d="M2102.9,1987.2 V2002.1" stroke="#ff9a00" stroke-width="3.8"/><path d="M2102.9,2002.1 V2021.3" stroke="#1a1aa8" stroke-width="3.8"/><path d="M2113.2,1991.6 V1999.1" stroke="#22e022" stroke-width="3.8"/><path d="M2113.2,1999.1 V2008" stroke="#c8cdea" stroke-width="3.8"/><path d="M2123.5,1991.2 V1999.1" stroke="#e02000" stroke-width="3.8"/><path d="M2123.5,1999.1 V2008.5" stroke="#101080" stroke-width="3.8"/><path d="M2133.8,1987.2 V2004.1" stroke="#22e022" stroke-width="3.8"/><path d="M2133.8,2004.1 V2021.8" stroke="#c8cdea" stroke-width="3.8"/><path d="M2144.1,1991.4 V2009" stroke="#ffb000" stroke-width="3.8"/><path d="M2144.1,2009 V2032.5" stroke="#3030c0" stroke-width="3.8"/><path d="M2154.4,2002.3 V2019.7" stroke="#1a1aa8" stroke-width="3.8"/><path d="M2154.4,2019.7 V2036.4" stroke="#ff9a00" stroke-width="3.8"/><path d="M2164.7,2015.6 V2023.5" stroke="#e02000" stroke-width="3.8"/><path d="M2164.7,2023.5 V2032" stroke="#101080" stroke-width="3.8"/><path d="M2175,2015.1 V2023.9" stroke="#e02000" stroke-width="3.8"/><path d="M2175,2023.9 V2032.4" stroke="#101080" stroke-width="3.8"/><path d="M2185.3,2001.8 V2020.8" stroke="#1a1aa8" stroke-width="3.8"/><path d="M2185.3,2020.8 V2036.4" stroke="#ff9a00" stroke-width="3.8"/><path d="M2195.6,1991.1 V2014" stroke="#ff9a00" stroke-width="3.8"/><path d="M2195.6,2014 V2032.2" stroke="#1a1aa8" stroke-width="3.8"/><path d="M2205.9,1987.2 V2004.1" stroke="#e02000" stroke-width="3.8"/><path d="M2205.9,2004.1 V2021.3" stroke="#101080" stroke-width="3.8"/><path d="M2216.2,1991.6 V1998.9" stroke="#ffb000" stroke-width="3.8"/><path d="M2216.2,1998.9 V2008" stroke="#3030c0" stroke-width="3.8"/><path d="M2226.5,1991.2 V2000.3" stroke="#ffb000" stroke-width="3.8"/><path d="M2226.5,2000.3 V2008.5" stroke="#3030c0" stroke-width="3.8"/><path d="M2236.8,1987.2 V2005" stroke="#ffb000" stroke-width="3.8"/><path d="M2236.8,2005 V2021.8" stroke="#3030c0" stroke-width="3.8"/><path d="M2247.1,1991.4 V2014.2" stroke="#ffb000" stroke-width="3.8"/><path d="M2247.1,2014.2 V2032.5" stroke="#3030c0" stroke-width="3.8"/><path d="M2257.4,2002.3 V2020.5" stroke="#e02000" stroke-width="3.8"/><path d="M2257.4,2020.5 V2036.4" stroke="#101080" stroke-width="3.8"/><path d="M2267.7,2015.6 V2023.5" stroke="#ffb000" stroke-width="3.8"/><path d="M2267.7,2023.5 V2032" stroke="#3030c0" stroke-width="3.8"/><path d="M2278,2015.1 V2023.4" stroke="#22e022" stroke-width="3.8"/><path d="M2278,2023.4 V2032.4" stroke="#c8cdea" stroke-width="3.8"/><path d="M2288.3,2001.8 V2016.9" stroke="#1a1aa8" stroke-width="3.8"/><path d="M2288.3,2016.9 V2036.4" stroke="#ff9a00" stroke-width="3.8"/><path d="M2298.6,1991.1 V2009.7" stroke="#ff9a00" stroke-width="3.8"/><path d="M2298.6,2009.7 V2032.2" stroke="#1a1aa8" stroke-width="3.8"/><path d="M2308.9,1987.2 V2002.2" stroke="#e02000" stroke-width="3.8"/><path d="M2308.9,2002.2 V2021.3" stroke="#101080" stroke-width="3.8"/><path d="M2319.2,1991.6 V1999.6" stroke="#c8cdea" stroke-width="3.8"/><path d="M2319.2,1999.6 V2008" stroke="#22e022" stroke-width="3.8"/><path d="M2329.5,1991.2 V1998.9" stroke="#22e022" stroke-width="3.8"/><path d="M2329.5,1998.9 V2008.5" stroke="#c8cdea" stroke-width="3.8"/><path d="M2339.8,1987.2 V2004" stroke="#22e022" stroke-width="3.8"/><path d="M2339.8,2004 V2021.8" stroke="#c8cdea" stroke-width="3.8"/><path d="M2350.1,1991.4 V2014.6" stroke="#e02000" stroke-width="3.8"/><path d="M2350.1,2014.6 V2032.5" stroke="#101080" stroke-width="3.8"/><path d="M2360.4,2002.3 V2021.4" stroke="#22e022" stroke-width="3.8"/><path d="M2360.4,2021.4 V2036.4" stroke="#c8cdea" stroke-width="3.8"/><path d="M2370.7,2015.6 V2024.3" stroke="#e02000" stroke-width="3.8"/><path d="M2370.7,2024.3 V2032" stroke="#101080" stroke-width="3.8"/><path d="M2381,2015.1 V2024.1" stroke="#e02000" stroke-width="3.8"/><path d="M2381,2024.1 V2032.4" stroke="#101080" stroke-width="3.8"/><path d="M2391.3,2001.8 V2021.7" stroke="#22e022" stroke-width="3.8"/><path d="M2391.3,2021.7 V2036.4" stroke="#c8cdea" stroke-width="3.8"/><path d="M2401.6,1991.1 V2008.7" stroke="#c8cdea" stroke-width="3.8"/><path d="M2401.6,2008.7 V2032.2" stroke="#22e022" stroke-width="3.8"/><path d="M2411.9,1987.2 V2002.8" stroke="#c8cdea" stroke-width="3.8"/><path d="M2411.9,2002.8 V2021.3" stroke="#22e022" stroke-width="3.8"/><path d="M2422.2,1991.6 V1998.8" stroke="#c8cdea" stroke-width="3.8"/><path d="M2422.2,1998.8 V2008" stroke="#22e022" stroke-width="3.8"/><path d="M2432.5,1991.2 V1999.2" stroke="#1a1aa8" stroke-width="3.8"/><path d="M2432.5,1999.2 V2008.5" stroke="#ff9a00" stroke-width="3.8"/><path d="M2442.8,1987.2 V2001.7" stroke="#e02000" stroke-width="3.8"/><path d="M2442.8,2001.7 V2021.8" stroke="#101080" stroke-width="3.8"/><path d="M2453.1,1991.4 V2012.2" stroke="#22e022" stroke-width="3.8"/><path d="M2453.1,2012.2 V2032.5" stroke="#c8cdea" stroke-width="3.8"/><path d="M2463.4,2002.3 V2019.7" stroke="#1a1aa8" stroke-width="3.8"/><path d="M2463.4,2019.7 V2036.4" stroke="#ff9a00" stroke-width="3.8"/><path d="M2473.7,2015.6 V2024.2" stroke="#c8cdea" stroke-width="3.8"/><path d="M2473.7,2024.2 V2032" stroke="#22e022" stroke-width="3.8"/><path d="M2484,2015.1 V2024.7" stroke="#1a1aa8" stroke-width="3.8"/><path d="M2484,2024.7 V2032.4" stroke="#ff9a00" stroke-width="3.8"/><path d="M2494.3,2001.8 V2020.1" stroke="#ffb000" stroke-width="3.8"/><path d="M2494.3,2020.1 V2036.4" stroke="#3030c0" stroke-width="3.8"/><path d="M2504.6,1991.1 V2011.3" stroke="#ff9a00" stroke-width="3.8"/><path d="M2504.6,2011.3 V2032.2" stroke="#1a1aa8" stroke-width="3.8"/><path d="M2514.9,1987.2 V2006" stroke="#ffb000" stroke-width="3.8"/><path d="M2514.9,2006 V2021.3" stroke="#3030c0" stroke-width="3.8"/><path d="M2525.2,1991.6 V1999.6" stroke="#22e022" stroke-width="3.8"/><path d="M2525.2,1999.6 V2008" stroke="#c8cdea" stroke-width="3.8"/><path d="M2535.5,1991.2 V1999" stroke="#22e022" stroke-width="3.8"/><path d="M2535.5,1999 V2008.5" stroke="#c8cdea" stroke-width="3.8"/><path d="M2545.8,1987.2 V2004" stroke="#ffb000" stroke-width="3.8"/><path d="M2545.8,2004 V2021.8" stroke="#3030c0" stroke-width="3.8"/><path d="M2556.1,1991.4 V2008.9" stroke="#c8cdea" stroke-width="3.8"/><path d="M2556.1,2008.9 V2032.5" stroke="#22e022" stroke-width="3.8"/><path d="M2566.4,2002.3 V2019" stroke="#c8cdea" stroke-width="3.8"/><path d="M2566.4,2019 V2036.4" stroke="#22e022" stroke-width="3.8"/><path d="M2576.7,2015.6 V2023.5" stroke="#ff9a00" stroke-width="3.8"/><path d="M2576.7,2023.5 V2032" stroke="#1a1aa8" stroke-width="3.8"/><path d="M2587,2015.1 V2022.8" stroke="#ff9a00" stroke-width="3.8"/><path d="M2587,2022.8 V2032.4" stroke="#1a1aa8" stroke-width="3.8"/><path d="M2597.3,2001.8 V2017.1" stroke="#1a1aa8" stroke-width="3.8"/><path d="M2597.3,2017.1 V2036.4" stroke="#ff9a00" stroke-width="3.8"/><path d="M2607.6,1991.1 V2014.8" stroke="#ff9a00" stroke-width="3.8"/><path d="M2607.6,2014.8 V2032.2" stroke="#1a1aa8" stroke-width="3.8"/><path d="M2617.9,1987.2 V2001.6" stroke="#1a1aa8" stroke-width="3.8"/><path d="M2617.9,2001.6 V2021.3" stroke="#ff9a00" stroke-width="3.8"/><path d="M2628.2,1991.6 V2000" stroke="#c8cdea" stroke-width="3.8"/><path d="M2628.2,2000 V2008" stroke="#22e022" stroke-width="3.8"/><path d="M2638.5,1991.2 V2000.2" stroke="#c8cdea" stroke-width="3.8"/><path d="M2638.5,2000.2 V2008.5" stroke="#22e022" stroke-width="3.8"/><path d="M2648.8,1987.2 V2005.1" stroke="#e02000" stroke-width="3.8"/><path d="M2648.8,2005.1 V2021.8" stroke="#101080" stroke-width="3.8"/><path d="M2659.1,1991.4 V2009.3" stroke="#22e022" stroke-width="3.8"/><path d="M2659.1,2009.3 V2032.5" stroke="#c8cdea" stroke-width="3.8"/><path d="M2669.4,2002.3 V2022.1" stroke="#22e022" stroke-width="3.8"/><path d="M2669.4,2022.1 V2036.4" stroke="#c8cdea" stroke-width="3.8"/><path d="M2679.7,2015.6 V2023.8" stroke="#22e022" stroke-width="3.8"/><path d="M2679.7,2023.8 V2032" stroke="#c8cdea" stroke-width="3.8"/><path d="M2690,2015.1 V2022.8" stroke="#e02000" stroke-width="3.8"/><path d="M2690,2022.8 V2032.4" stroke="#101080" stroke-width="3.8"/><path d="M2700.3,2001.8 V2020.5" stroke="#ff9a00" stroke-width="3.8"/><path d="M2700.3,2020.5 V2036.4" stroke="#1a1aa8" stroke-width="3.8"/><path d="M2710.6,1991.1 V2010" stroke="#ffb000" stroke-width="3.8"/><path d="M2710.6,2010 V2032.2" stroke="#3030c0" stroke-width="3.8"/><path d="M2720.9,1987.2 V2002.4" stroke="#ffb000" stroke-width="3.8"/><path d="M2720.9,2002.4 V2021.3" stroke="#3030c0" stroke-width="3.8"/><path d="M2731.2,1991.6 V1999.2" stroke="#ff9a00" stroke-width="3.8"/><path d="M2731.2,1999.2 V2008" stroke="#1a1aa8" stroke-width="3.8"/><path d="M2741.5,1991.2 V1999.6" stroke="#1a1aa8" stroke-width="3.8"/><path d="M2741.5,1999.6 V2008.5" stroke="#ff9a00" stroke-width="3.8"/><path d="M2751.8,1987.2 V2004.8" stroke="#ffb000" stroke-width="3.8"/><path d="M2751.8,2004.8 V2021.8" stroke="#3030c0" stroke-width="3.8"/><path d="M2762.1,1991.4 V2013.8" stroke="#ff9a00" stroke-width="3.8"/><path d="M2762.1,2013.8 V2032.5" stroke="#1a1aa8" stroke-width="3.8"/><path d="M2772.4,2002.3 V2022" stroke="#e02000" stroke-width="3.8"/><path d="M2772.4,2022 V2036.4" stroke="#101080" stroke-width="3.8"/><path d="M2782.7,2015.6 V2024.2" stroke="#ff9a00" stroke-width="3.8"/><path d="M2782.7,2024.2 V2032" stroke="#1a1aa8" stroke-width="3.8"/><path d="M2793,2015.1 V2023.8" stroke="#e02000" stroke-width="3.8"/><path d="M2793,2023.8 V2032.4" stroke="#101080" stroke-width="3.8"/><path d="M2803.3,2001.8 V2018.2" stroke="#c8cdea" stroke-width="3.8"/><path d="M2803.3,2018.2 V2036.4" stroke="#22e022" stroke-width="3.8"/><path d="M2813.6,1991.1 V2011.9" stroke="#c8cdea" stroke-width="3.8"/><path d="M2813.6,2011.9 V2032.2" stroke="#22e022" stroke-width="3.8"/><path d="M2823.9,1987.2 V2003.3" stroke="#1a1aa8" stroke-width="3.8"/><path d="M2823.9,2003.3 V2021.3" stroke="#ff9a00" stroke-width="3.8"/><path d="M2834.2,1991.6 V2000" stroke="#c8cdea" stroke-width="3.8"/><path d="M2834.2,2000 V2008" stroke="#22e022" stroke-width="3.8"/><path d="M2844.5,1991.2 V2000.6" stroke="#c8cdea" stroke-width="3.8"/><path d="M2844.5,2000.6 V2008.5" stroke="#22e022" stroke-width="3.8"/><path d="M2854.8,1987.2 V2005.9" stroke="#22e022" stroke-width="3.8"/><path d="M2854.8,2005.9 V2021.8" stroke="#c8cdea" stroke-width="3.8"/><path d="M2865.1,1991.4 V2009.8" stroke="#c8cdea" stroke-width="3.8"/><path d="M2865.1,2009.8 V2032.5" stroke="#22e022" stroke-width="3.8"/><path d="M2875.4,2002.3 V2018.5" stroke="#22e022" stroke-width="3.8"/><path d="M2875.4,2018.5 V2036.4" stroke="#c8cdea" stroke-width="3.8"/><path d="M2885.7,2015.6 V2024.8" stroke="#ff9a00" stroke-width="3.8"/><path d="M2885.7,2024.8 V2032" stroke="#1a1aa8" stroke-width="3.8"/><path d="M2896,2015.1 V2023.7" stroke="#e02000" stroke-width="3.8"/><path d="M2896,2023.7 V2032.4" stroke="#101080" stroke-width="3.8"/><path d="M2906.3,2001.8 V2020.2" stroke="#c8cdea" stroke-width="3.8"/><path d="M2906.3,2020.2 V2036.4" stroke="#22e022" stroke-width="3.8"/><path d="M2916.6,1991.1 V2011.3" stroke="#e02000" stroke-width="3.8"/><path d="M2916.6,2011.3 V2032.2" stroke="#101080" stroke-width="3.8"/><path d="M2926.9,1987.2 V2007" stroke="#ffb000" stroke-width="3.8"/><path d="M2926.9,2007 V2021.3" stroke="#3030c0" stroke-width="3.8"/><path d="M2937.2,1991.6 V1998.9" stroke="#e02000" stroke-width="3.8"/><path d="M2937.2,1998.9 V2008" stroke="#101080" stroke-width="3.8"/><path d="M2947.5,1991.2 V1999.3" stroke="#ff9a00" stroke-width="3.8"/><path d="M2947.5,1999.3 V2008.5" stroke="#1a1aa8" stroke-width="3.8"/><path d="M2957.8,1987.2 V2003.6" stroke="#c8cdea" stroke-width="3.8"/><path d="M2957.8,2003.6 V2021.8" stroke="#22e022" stroke-width="3.8"/><path d="M2968.1,1991.4 V2012.8" stroke="#22e022" stroke-width="3.8"/><path d="M2968.1,2012.8 V2032.5" stroke="#c8cdea" stroke-width="3.8"/><polygon points="1769,2029.9 1771,2031 1773,2031.8 1775,2031.2 1777,2030.2 1779,2028.8 1781,2027.2 1783,2025.3 1785,2023.2 1787,2020.9 1789,2018.5 1791,2015.9 1793,2013.3 1795,2010.6 1797,2007.9 1799,2005.2 1801,2002.6 1803,2000.1 1805,1997.8 1807,1995.7 1809,1993.8 1811,1992.1 1813,1990.7 1815,1989.6 1817,1988.8 1819,1988.3 1821,1988.1 1823,1988.3 1825,1988.6 1827,1988.2 1829,1988.1 1831.1,1988.4 1833.1,1989 1835.1,1989.9 1837.1,1991.1 1839.1,1992.6 1841.1,1994.4 1843.1,1996.4 1845.1,1998.6 1847.1,2001 1849.1,2003.5 1851.1,2006.1 1853.1,2008.8 1855.1,2011.5 1857.1,2014.2 1859.1,2016.8 1861.1,2019.4 1863.1,2021.8 1865.1,2024 1867.1,2026 1869.1,2027.8 1871.1,2029.3 1873.1,2030.6 1875.1,2031.5 1877.1,2031.6 1879.1,2030.7 1881.1,2029.5 1883.1,2028 1885.1,2026.2 1887.1,2024.2 1889.1,2022 1891.1,2019.6 1893.1,2017.1 1895.1,2014.5 1897.1,2011.8 1899.1,2009.1 1901.1,2006.4 1903.1,2003.8 1905.1,2001.3 1907.1,1998.9 1909.1,1996.6 1911.1,1994.6 1913.1,1992.8 1915.1,1991.3 1917.1,1990 1919.1,1989.1 1921.1,1988.5 1923.1,1988.2 1925.1,1988.2 1927.1,1988.5 1929.1,1988.3 1931.1,1988.1 1933.1,1988.2 1935.1,1988.7 1937.1,1989.5 1939.1,1990.5 1941.1,1991.9 1943.1,1993.6 1945.1,1995.4 1947.1,1997.6 1949.1,1999.9 1951.2,2002.3 1953.2,2004.9 1955.2,2007.6 1957.2,2010.3 1959.2,2013 1961.2,2015.6 1963.2,2018.2 1965.2,2020.7 1967.2,2023 1969.2,2025.1 1971.2,2027 1973.2,2028.7 1975.2,2030 1977.2,2031.1 1979.2,2031.9 1981.2,2031.1 1983.2,2030.1 1985.2,2028.7 1987.2,2027.1 1989.2,2025.2 1991.2,2023 1993.2,2020.7 1995.2,2018.3 1997.2,2015.7 1999.2,2013 2001.2,2010.3 2003.2,2007.6 2005.2,2005 2007.2,2002.4 2009.2,1999.9 2011.2,1997.6 2013.2,1995.5 2015.2,1993.6 2017.2,1991.9 2019.2,1990.6 2021.2,1989.5 2023.2,1988.7 2025.2,1988.3 2027.2,1988.1 2029.2,1988.3 2031.2,1988.6 2033.2,1988.2 2035.2,1988.2 2037.2,1988.4 2039.2,1989.1 2041.2,1990 2043.2,1991.2 2045.2,1992.8 2047.2,1994.6 2049.2,1996.6 2051.2,1998.8 2053.2,2001.2 2055.2,2003.7 2057.2,2006.3 2059.2,2009 2061.2,2011.7 2063.2,2014.4 2065.2,2017 2067.2,2019.6 2069.2,2021.9 2071.2,2024.2 2073.3,2026.2 2075.3,2027.9 2077.3,2029.4 2079.3,2030.7 2081.3,2031.6 2083.3,2031.5 2085.3,2030.6 2087.3,2029.4 2089.3,2027.8 2091.3,2026.1 2093.3,2024 2095.3,2021.8 2097.3,2019.4 2099.3,2016.9 2101.3,2014.3 2103.3,2011.6 2105.3,2008.9 2107.3,2006.2 2109.3,2003.6 2111.3,2001 2113.3,1998.7 2115.3,1996.4 2117.3,1994.4 2119.3,1992.7 2121.3,1991.2 2123.3,1989.9 2125.3,1989 2127.3,1988.4 2129.3,1988.1 2131.3,1988.2 2133.3,1988.6 2135.3,1988.3 2137.3,1988.1 2139.3,1988.3 2141.3,1988.7 2143.3,1989.5 2145.3,1990.6 2147.3,1992 2149.3,1993.7 2151.3,1995.6 2153.3,1997.8 2155.3,2000.1 2157.3,2002.5 2159.3,2005.1 2161.3,2007.8 2163.3,2010.5 2165.3,2013.2 2167.3,2015.9 2169.3,2018.4 2171.3,2020.9 2173.3,2023.2 2175.3,2025.3 2177.3,2027.2 2179.3,2028.8 2181.3,2030.1 2183.3,2031.2 2185.3,2031.9 2187.3,2031.1 2189.3,2030 2191.3,2028.6 2193.4,2026.9 2195.4,2025 2197.4,2022.9 2199.4,2020.5 2201.4,2018.1 2203.4,2015.5 2205.4,2012.8 2207.4,2010.1 2209.4,2007.4 2211.4,2004.8 2213.4,2002.2 2215.4,1999.7 2217.4,1997.4 2219.4,1995.3 2221.4,1993.4 2223.4,1991.8 2225.4,1990.5 2227.4,1989.4 2229.4,1988.7 2231.4,1988.2 2233.4,1988.1 2235.4,1988.4 2237.4,1988.5 2239.4,1988.2 2241.4,1988.2 2243.4,1988.5 2245.4,1989.1 2247.4,1990.1 2249.4,1991.4 2251.4,1992.9 2253.4,1994.7 2255.4,1996.8 2257.4,1999 2259.4,2001.4 2261.4,2003.9 2263.4,2006.6 2265.4,2009.3 2267.4,2012 2269.4,2014.6 2271.4,2017.3 2273.4,2019.8 2275.4,2022.1 2277.4,2024.3 2279.4,2026.3 2281.4,2028.1 2283.4,2029.6 2285.4,2030.7 2287.4,2031.6 2289.4,2031.5 2291.4,2030.5 2293.4,2029.2 2295.4,2027.7 2297.4,2025.9 2299.4,2023.9 2301.4,2021.6 2303.4,2019.2 2305.4,2016.7 2307.4,2014 2309.4,2011.3 2311.4,2008.6 2313.4,2006 2315.5,2003.3 2317.5,2000.8 2319.5,1998.5 2321.5,1996.3 2323.5,1994.3 2325.5,1992.5 2327.5,1991 2329.5,1989.9 2331.5,1989 2333.5,1988.4 2335.5,1988.1 2337.5,1988.2 2339.5,1988.6 2341.5,1988.3 2343.5,1988.1 2345.5,1988.3 2347.5,1988.8 2349.5,1989.6 2351.5,1990.8 2353.5,1992.2 2355.5,1993.9 2357.5,1995.8 2359.5,1997.9 2361.5,2000.3 2363.5,2002.8 2365.5,2005.4 2367.5,2008 2369.5,2010.7 2371.5,2013.4 2373.5,2016.1 2375.5,2018.6 2377.5,2021.1 2379.5,2023.4 2381.5,2025.4 2383.5,2027.3 2385.5,2028.9 2387.5,2030.2 2389.5,2031.3 2391.5,2031.8 2393.5,2031 2395.5,2029.9 2397.5,2028.4 2399.5,2026.7 2401.5,2024.8 2403.5,2022.7 2405.5,2020.3 2407.5,2017.8 2409.5,2015.3 2411.5,2012.6 2413.5,2009.9 2415.5,2007.2 2417.5,2004.5 2419.5,2002 2421.5,1999.5 2423.5,1997.2 2425.5,1995.2 2427.5,1993.3 2429.5,1991.7 2431.5,1990.4 2433.5,1989.3 2435.6,1988.6 2437.6,1988.2 2439.6,1988.1 2441.6,1988.4 2443.6,1988.5 2445.6,1988.2 2447.6,1988.2 2449.6,1988.5 2451.6,1989.2 2453.6,1990.2 2455.6,1991.5 2457.6,1993.1 2459.6,1994.9 2461.6,1996.9 2463.6,1999.2 2465.6,2001.6 2467.6,2004.2 2469.6,2006.8 2471.6,2009.5 2473.6,2012.2 2475.6,2014.9 2477.6,2017.5 2479.6,2020 2481.6,2022.3 2483.6,2024.5 2485.6,2026.5 2487.6,2028.2 2489.6,2029.7 2491.6,2030.8 2493.6,2031.7 2495.6,2031.4 2497.6,2030.4 2499.6,2029.1 2501.6,2027.6 2503.6,2025.7 2505.6,2023.7 2507.6,2021.4 2509.6,2019 2511.6,2016.5 2513.6,2013.8 2515.6,2011.1 2517.6,2008.4 2519.6,2005.7 2521.6,2003.1 2523.6,2000.6 2525.6,1998.3 2527.6,1996.1 2529.6,1994.1 2531.6,1992.4 2533.6,1990.9 2535.6,1989.8 2537.6,1988.9 2539.6,1988.4 2541.6,1988.1 2543.6,1988.2 2545.6,1988.7 2547.6,1988.3 2549.6,1988.1 2551.6,1988.3 2553.6,1988.9 2555.6,1989.7 2557.7,1990.9 2559.7,1992.3 2561.7,1994 2563.7,1996 2565.7,1998.1 2567.7,2000.5 2569.7,2003 2571.7,2005.6 2573.7,2008.3 2575.7,2011 2577.7,2013.7 2579.7,2016.3 2581.7,2018.9 2583.7,2021.3 2585.7,2023.5 2587.7,2025.6 2589.7,2027.5 2591.7,2029 2593.7,2030.3 2595.7,2031.3 2597.7,2031.7 2599.7,2030.9 2601.7,2029.7 2603.7,2028.3 2605.7,2026.6 2607.7,2024.6 2609.7,2022.5 2611.7,2020.1 2613.7,2017.6 2615.7,2015 2617.7,2012.4 2619.7,2009.6 2621.7,2007 2623.7,2004.3 2625.7,2001.8 2627.7,1999.3 2629.7,1997.1 2631.7,1995 2633.7,1993.2 2635.7,1991.6 2637.7,1990.3 2639.7,1989.3 2641.7,1988.6 2643.7,1988.2 2645.7,1988.2 2647.7,1988.4 2649.7,1988.4 2651.7,1988.1 2653.7,1988.2 2655.7,1988.6 2657.7,1989.3 2659.7,1990.3 2661.7,1991.6 2663.7,1993.2 2665.7,1995 2667.7,1997.1 2669.7,1999.4 2671.7,2001.8 2673.7,2004.4 2675.7,2007 2677.8,2009.7 2679.8,2012.4 2681.8,2015.1 2683.8,2017.7 2685.8,2020.2 2687.8,2022.5 2689.8,2024.7 2691.8,2026.6 2693.8,2028.3 2695.8,2029.8 2697.8,2030.9 2699.8,2031.8 2701.8,2031.3 2703.8,2030.3 2705.8,2029 2707.8,2027.4 2709.8,2025.6 2711.8,2023.5 2713.8,2021.2 2715.8,2018.8 2717.8,2016.2 2719.8,2013.6 2721.8,2010.9 2723.8,2008.2 2725.8,2005.5 2727.8,2002.9 2729.8,2000.4 2731.8,1998.1 2733.8,1995.9 2735.8,1994 2737.8,1992.3 2739.8,1990.8 2741.8,1989.7 2743.8,1988.8 2745.8,1988.3 2747.8,1988.1 2749.8,1988.3 2751.8,1988.7 2753.8,1988.2 2755.8,1988.1 2757.8,1988.4 2759.8,1988.9 2761.8,1989.8 2763.8,1991 2765.8,1992.4 2767.8,1994.2 2769.8,1996.1 2771.8,1998.3 2773.8,2000.7 2775.8,2003.2 2777.8,2005.8 2779.8,2008.5 2781.8,2011.2 2783.8,2013.9 2785.8,2016.5 2787.8,2019.1 2789.8,2021.5 2791.8,2023.7 2793.8,2025.8 2795.8,2027.6 2797.8,2029.2 2799.9,2030.4 2801.9,2031.4 2803.9,2031.7 2805.9,2030.8 2807.9,2029.6 2809.9,2028.2 2811.9,2026.4 2813.9,2024.5 2815.9,2022.3 2817.9,2019.9 2819.9,2017.4 2821.9,2014.8 2823.9,2012.1 2825.9,2009.4 2827.9,2006.7 2829.9,2004.1 2831.9,2001.5 2833.9,1999.1 2835.9,1996.9 2837.9,1994.8 2839.9,1993 2841.9,1991.4 2843.9,1990.2 2845.9,1989.2 2847.9,1988.5 2849.9,1988.2 2851.9,1988.2 2853.9,1988.5 2855.9,1988.4 2857.9,1988.1 2859.9,1988.2 2861.9,1988.6 2863.9,1989.4 2865.9,1990.4 2867.9,1991.7 2869.9,1993.3 2871.9,1995.2 2873.9,1997.3 2875.9,1999.6 2877.9,2002 2879.9,2004.6 2881.9,2007.3 2883.9,2010 2885.9,2012.7 2887.9,2015.3 2889.9,2017.9 2891.9,2020.4 2893.9,2022.7 2895.9,2024.9 2897.9,2026.8 2899.9,2028.5 2901.9,2029.9 2903.9,2031 2905.9,2031.8 2907.9,2031.2 2909.9,2030.2 2911.9,2028.9 2913.9,2027.3 2915.9,2025.4 2917.9,2023.3 2920,2021 2922,2018.6 2924,2016 2926,2013.4 2928,2010.7 2930,2008 2932,2005.3 2934,2002.7 2936,2000.2 2938,1997.9 2940,1995.7 2942,1993.8 2944,1992.1 2946,1990.7 2948,1989.6 2950,1988.8 2952,1988.3 2954,1988.1 2956,1988.3 2958,1988.6 2960,1988.2 2962,1988.1 2964,1988.4 2966,1989 2968,1989.9 2970,1991.1 2972,1992.6 2974,1994.3 2976,1996.3 2978,1998.5 2980,2000.9 2980,2013.7 2978,2011 2976,2008.3 2974,2005.7 2972,2003.2 2970,2000.9 2968,1998.8 2966,1996.8 2964,1995.1 2962,1993.7 2960,1992.6 2958,1991.8 2956,1992.3 2954,1993.4 2952,1994.7 2950,1996.3 2948,1998.2 2946,2000.3 2944,2002.6 2942,2005 2940,2007.6 2938,2010.2 2936,2012.9 2934,2015.6 2932,2018.3 2930,2020.9 2928,2023.4 2926,2025.7 2924,2027.8 2922,2029.8 2920,2031.5 2917.9,2032.9 2915.9,2034 2913.9,2034.8 2911.9,2035.3 2909.9,2035.5 2907.9,2035.3 2905.9,2035 2903.9,2035.4 2901.9,2035.5 2899.9,2035.2 2897.9,2034.6 2895.9,2033.7 2893.9,2032.5 2891.9,2031 2889.9,2029.3 2887.9,2027.3 2885.9,2025.1 2883.9,2022.7 2881.9,2020.2 2879.9,2017.6 2877.9,2014.9 2875.9,2012.2 2873.9,2009.5 2871.9,2006.9 2869.9,2004.3 2867.9,2001.9 2865.9,1999.7 2863.9,1997.7 2861.9,1995.9 2859.9,1994.3 2857.9,1993.1 2855.9,1992.1 2853.9,1992 2851.9,1992.9 2849.9,1994.1 2847.9,1995.6 2845.9,1997.3 2843.9,1999.3 2841.9,2001.5 2839.9,2003.9 2837.9,2006.4 2835.9,2009 2833.9,2011.7 2831.9,2014.4 2829.9,2017.1 2827.9,2019.7 2825.9,2022.2 2823.9,2024.6 2821.9,2026.9 2819.9,2028.9 2817.9,2030.7 2815.9,2032.3 2813.9,2033.5 2811.9,2034.5 2809.9,2035.1 2807.9,2035.4 2805.9,2035.4 2803.9,2035.1 2801.9,2035.2 2799.9,2035.5 2797.8,2035.4 2795.8,2034.9 2793.8,2034.2 2791.8,2033.1 2789.8,2031.8 2787.8,2030.1 2785.8,2028.2 2783.8,2026.1 2781.8,2023.8 2779.8,2021.4 2777.8,2018.8 2775.8,2016.1 2773.8,2013.4 2771.8,2010.7 2769.8,2008.1 2767.8,2005.5 2765.8,2003 2763.8,2000.7 2761.8,1998.6 2759.8,1996.7 2757.8,1995 2755.8,1993.6 2753.8,1992.5 2751.8,1991.7 2749.8,1992.4 2747.8,1993.5 2745.8,1994.8 2743.8,1996.5 2741.8,1998.4 2739.8,2000.5 2737.8,2002.8 2735.8,2005.2 2733.8,2007.8 2731.8,2010.4 2729.8,2013.1 2727.8,2015.8 2725.8,2018.5 2723.8,2021.1 2721.8,2023.6 2719.8,2025.9 2717.8,2028 2715.8,2029.9 2713.8,2031.6 2711.8,2033 2709.8,2034.1 2707.8,2034.9 2705.8,2035.3 2703.8,2035.5 2701.8,2035.3 2699.8,2035 2697.8,2035.4 2695.8,2035.5 2693.8,2035.2 2691.8,2034.6 2689.8,2033.6 2687.8,2032.4 2685.8,2030.9 2683.8,2029.1 2681.8,2027.1 2679.8,2024.9 2677.8,2022.5 2675.7,2020 2673.7,2017.4 2671.7,2014.7 2669.7,2012 2667.7,2009.3 2665.7,2006.7 2663.7,2004.1 2661.7,2001.7 2659.7,1999.5 2657.7,1997.5 2655.7,1995.7 2653.7,1994.2 2651.7,1993 2649.7,1992.1 2647.7,1992 2645.7,1993 2643.7,1994.2 2641.7,1995.7 2639.7,1997.5 2637.7,1999.5 2635.7,2001.7 2633.7,2004.1 2631.7,2006.6 2629.7,2009.2 2627.7,2011.9 2625.7,2014.6 2623.7,2017.3 2621.7,2019.9 2619.7,2022.5 2617.7,2024.8 2615.7,2027.1 2613.7,2029.1 2611.7,2030.9 2609.7,2032.4 2607.7,2033.6 2605.7,2034.5 2603.7,2035.2 2601.7,2035.4 2599.7,2035.4 2597.7,2035 2595.7,2035.3 2593.7,2035.5 2591.7,2035.3 2589.7,2034.9 2587.7,2034.1 2585.7,2033 2583.7,2031.6 2581.7,2030 2579.7,2028.1 2577.7,2025.9 2575.7,2023.6 2573.7,2021.2 2571.7,2018.6 2569.7,2015.9 2567.7,2013.2 2565.7,2010.5 2563.7,2007.9 2561.7,2005.3 2559.7,2002.8 2557.7,2000.5 2555.6,1998.4 2553.6,1996.5 2551.6,1994.9 2549.6,1993.5 2547.6,1992.4 2545.6,1991.7 2543.6,1992.5 2541.6,1993.6 2539.6,1995 2537.6,1996.6 2535.6,1998.5 2533.6,2000.7 2531.6,2003 2529.6,2005.4 2527.6,2008 2525.6,2010.7 2523.6,2013.4 2521.6,2016.1 2519.6,2018.7 2517.6,2021.3 2515.6,2023.8 2513.6,2026.1 2511.6,2028.2 2509.6,2030.1 2507.6,2031.7 2505.6,2033.1 2503.6,2034.2 2501.6,2034.9 2499.6,2035.4 2497.6,2035.5 2495.6,2035.2 2493.6,2035.1 2491.6,2035.4 2489.6,2035.4 2487.6,2035.1 2485.6,2034.5 2483.6,2033.5 2481.6,2032.3 2479.6,2030.8 2477.6,2029 2475.6,2026.9 2473.6,2024.7 2471.6,2022.3 2469.6,2019.8 2467.6,2017.1 2465.6,2014.5 2463.6,2011.7 2461.6,2009.1 2459.6,2006.4 2457.6,2003.9 2455.6,2001.6 2453.6,1999.3 2451.6,1997.4 2449.6,1995.6 2447.6,1994.1 2445.6,1992.9 2443.6,1992 2441.6,1992.1 2439.6,1993.1 2437.6,1994.3 2435.6,1995.8 2433.5,1997.6 2431.5,1999.7 2429.5,2001.9 2427.5,2004.3 2425.5,2006.8 2423.5,2009.4 2421.5,2012.1 2419.5,2014.8 2417.5,2017.5 2415.5,2020.1 2413.5,2022.7 2411.5,2025 2409.5,2027.2 2407.5,2029.2 2405.5,2031 2403.5,2032.5 2401.5,2033.7 2399.5,2034.6 2397.5,2035.2 2395.5,2035.5 2393.5,2035.4 2391.5,2035 2389.5,2035.3 2387.5,2035.5 2385.5,2035.3 2383.5,2034.8 2381.5,2034 2379.5,2032.9 2377.5,2031.5 2375.5,2029.8 2373.5,2027.9 2371.5,2025.8 2369.5,2023.4 2367.5,2020.9 2365.5,2018.4 2363.5,2015.7 2361.5,2013 2359.5,2010.3 2357.5,2007.6 2355.5,2005.1 2353.5,2002.6 2351.5,2000.3 2349.5,1998.2 2347.5,1996.4 2345.5,1994.8 2343.5,1993.4 2341.5,1992.4 2339.5,1991.8 2337.5,1992.6 2335.5,1993.7 2333.5,1995.1 2331.5,1996.8 2329.5,1998.7 2327.5,2000.8 2325.5,2003.2 2323.5,2005.6 2321.5,2008.2 2319.5,2010.9 2317.5,2013.6 2315.5,2016.3 2313.4,2019 2311.4,2021.5 2309.4,2024 2307.4,2026.3 2305.4,2028.4 2303.4,2030.2 2301.4,2031.8 2299.4,2033.2 2297.4,2034.2 2295.4,2035 2293.4,2035.4 2291.4,2035.5 2289.4,2035.2 2287.4,2035.1 2285.4,2035.4 2283.4,2035.4 2281.4,2035.1 2279.4,2034.4 2277.4,2033.5 2275.4,2032.2 2273.4,2030.6 2271.4,2028.8 2269.4,2026.8 2267.4,2024.5 2265.4,2022.1 2263.4,2019.6 2261.4,2016.9 2259.4,2014.2 2257.4,2011.5 2255.4,2008.8 2253.4,2006.2 2251.4,2003.7 2249.4,2001.4 2247.4,1999.2 2245.4,1997.2 2243.4,1995.5 2241.4,1994 2239.4,1992.8 2237.4,1991.9 2235.4,1992.2 2233.4,1993.1 2231.4,1994.4 2229.4,1996 2227.4,1997.8 2225.4,1999.8 2223.4,2002.1 2221.4,2004.5 2219.4,2007 2217.4,2009.7 2215.4,2012.4 2213.4,2015.1 2211.4,2017.8 2209.4,2020.4 2207.4,2022.9 2205.4,2025.2 2203.4,2027.4 2201.4,2029.4 2199.4,2031.1 2197.4,2032.6 2195.4,2033.8 2193.4,2034.7 2191.3,2035.2 2189.3,2035.5 2187.3,2035.4 2185.3,2034.9 2183.3,2035.3 2181.3,2035.5 2179.3,2035.3 2177.3,2034.8 2175.3,2033.9 2173.3,2032.8 2171.3,2031.4 2169.3,2029.7 2167.3,2027.7 2165.3,2025.6 2163.3,2023.2 2161.3,2020.7 2159.3,2018.1 2157.3,2015.5 2155.3,2012.8 2153.3,2010.1 2151.3,2007.4 2149.3,2004.9 2147.3,2002.4 2145.3,2000.1 2143.3,1998.1 2141.3,1996.2 2139.3,1994.6 2137.3,1993.3 2135.3,1992.3 2133.3,1991.8 2131.3,1992.7 2129.3,1993.8 2127.3,1995.2 2125.3,1996.9 2123.3,1998.9 2121.3,2001 2119.3,2003.4 2117.3,2005.9 2115.3,2008.5 2113.3,2011.1 2111.3,2013.8 2109.3,2016.5 2107.3,2019.2 2105.3,2021.7 2103.3,2024.2 2101.3,2026.4 2099.3,2028.5 2097.3,2030.4 2095.3,2032 2093.3,2033.3 2091.3,2034.3 2089.3,2035 2087.3,2035.4 2085.3,2035.5 2083.3,2035.2 2081.3,2035.2 2079.3,2035.4 2077.3,2035.4 2075.3,2035 2073.3,2034.4 2071.2,2033.4 2069.2,2032.1 2067.2,2030.5 2065.2,2028.6 2063.2,2026.6 2061.2,2024.3 2059.2,2021.9 2057.2,2019.3 2055.2,2016.7 2053.2,2014 2051.2,2011.3 2049.2,2008.6 2047.2,2006 2045.2,2003.5 2043.2,2001.2 2041.2,1999 2039.2,1997 2037.2,1995.3 2035.2,1993.9 2033.2,1992.7 2031.2,1991.9 2029.2,1992.2 2027.2,1993.2 2025.2,1994.5 2023.2,1996.1 2021.2,1998 2019.2,2000 2017.2,2002.3 2015.2,2004.7 2013.2,2007.3 2011.2,2009.9 2009.2,2012.6 2007.2,2015.3 2005.2,2018 2003.2,2020.6 2001.2,2023.1 1999.2,2025.4 1997.2,2027.6 1995.2,2029.6 1993.2,2031.3 1991.2,2032.7 1989.2,2033.9 1987.2,2034.7 1985.2,2035.3 1983.2,2035.5 1981.2,2035.3 1979.2,2034.9 1977.2,2035.4 1975.2,2035.5 1973.2,2035.3 1971.2,2034.7 1969.2,2033.9 1967.2,2032.7 1965.2,2031.2 1963.2,2029.5 1961.2,2027.5 1959.2,2025.4 1957.2,2023 1955.2,2020.5 1953.2,2017.9 1951.2,2015.2 1949.1,2012.5 1947.1,2009.8 1945.1,2007.2 1943.1,2004.6 1941.1,2002.2 1939.1,2000 1937.1,1997.9 1935.1,1996.1 1933.1,1994.5 1931.1,1993.2 1929.1,1992.2 1927.1,1991.9 1925.1,1992.7 1923.1,1993.9 1921.1,1995.4 1919.1,1997.1 1917.1,1999 1915.1,2001.2 1913.1,2003.6 1911.1,2006.1 1909.1,2008.7 1907.1,2011.4 1905.1,2014.1 1903.1,2016.8 1901.1,2019.4 1899.1,2022 1897.1,2024.4 1895.1,2026.6 1893.1,2028.7 1891.1,2030.5 1889.1,2032.1 1887.1,2033.4 1885.1,2034.4 1883.1,2035.1 1881.1,2035.4 1879.1,2035.4 1877.1,2035.1 1875.1,2035.2 1873.1,2035.5 1871.1,2035.4 1869.1,2035 1867.1,2034.3 1865.1,2033.3 1863.1,2031.9 1861.1,2030.3 1859.1,2028.5 1857.1,2026.4 1855.1,2024.1 1853.1,2021.7 1851.1,2019.1 1849.1,2016.5 1847.1,2013.8 1845.1,2011.1 1843.1,2008.4 1841.1,2005.8 1839.1,2003.3 1837.1,2001 1835.1,1998.8 1833.1,1996.9 1831.1,1995.2 1829,1993.8 1827,1992.6 1825,1991.8 1823,1992.3 1821,1993.3 1819,1994.7 1817,1996.3 1815,1998.1 1813,2000.2 1811,2002.5 1809,2004.9 1807,2007.5 1805,2010.1 1803,2012.8 1801,2015.5 1799,2018.2 1797,2020.8 1795,2023.3 1793,2025.6 1791,2027.8 1789,2029.7 1787,2031.4 1785,2032.8 1783,2034 1781,2034.8 1779,2035.3 1777,2035.5 1775,2035.3 1773,2035 1771,2035.4 1769,2035.5" fill="url(#dgg)"/><polygon points="1741,2031.5 1743,2031.6 1745,2030.7 1747,2029.5 1749,2028 1751,2026.2 1753,2024.2 1755,2022 1757,2019.6 1759,2017.1 1761,2014.5 1763,2011.8 1765,2009.1 1767,2006.4 1769,2003.8 1771,2001.2 1773,1998.8 1775,1996.6 1777,1994.6 1779,1992.8 1781,1991.3 1783,1990 1785,1989.1 1787,1988.5 1789,1988.2 1791,1988.2 1793,1988.5 1795,1988.3 1797,1988.1 1799,1988.3 1801,1988.7 1803.1,1989.5 1805.1,1990.5 1807.1,1991.9 1809.1,1993.6 1811.1,1995.5 1813.1,1997.6 1815.1,1999.9 1817.1,2002.3 1819.1,2004.9 1821.1,2007.6 1823.1,2010.3 1825.1,2013 1827.1,2015.6 1829.1,2018.2 1831.1,2020.7 1833.1,2023 1835.1,2025.1 1837.1,2027 1839.1,2028.7 1841.1,2030 1843.1,2031.1 1845.1,2031.9 1847.1,2031.1 1849.1,2030.1 1851.1,2028.7 1853.1,2027 1855.1,2025.1 1857.1,2023 1859.1,2020.7 1861.1,2018.3 1863.1,2015.7 1865.1,2013 1867.1,2010.3 1869.1,2007.6 1871.1,2005 1873.1,2002.4 1875.1,1999.9 1877.1,1997.6 1879.1,1995.5 1881.1,1993.6 1883.1,1991.9 1885.1,1990.6 1887.1,1989.5 1889.1,1988.7 1891.1,1988.3 1893.1,1988.1 1895.1,1988.3 1897.1,1988.6 1899.1,1988.2 1901.1,1988.2 1903.1,1988.5 1905.1,1989.1 1907.1,1990 1909.1,1991.3 1911.1,1992.8 1913.1,1994.6 1915.1,1996.6 1917.1,1998.8 1919.1,2001.2 1921.1,2003.7 1923.1,2006.4 1925.2,2009 1927.2,2011.7 1929.2,2014.4 1931.2,2017.1 1933.2,2019.6 1935.2,2022 1937.2,2024.2 1939.2,2026.2 1941.2,2027.9 1943.2,2029.4 1945.2,2030.7 1947.2,2031.6 1949.2,2031.5 1951.2,2030.6 1953.2,2029.4 1955.2,2027.8 1957.2,2026 1959.2,2024 1961.2,2021.8 1963.2,2019.4 1965.2,2016.9 1967.2,2014.3 1969.2,2011.6 1971.2,2008.9 1973.2,2006.2 1975.2,2003.6 1977.2,2001 1979.2,1998.6 1981.2,1996.4 1983.2,1994.4 1985.2,1992.7 1987.2,1991.2 1989.2,1989.9 1991.2,1989 1993.2,1988.4 1995.2,1988.1 1997.2,1988.2 1999.2,1988.6 2001.2,1988.3 2003.2,1988.1 2005.2,1988.3 2007.2,1988.7 2009.2,1989.5 2011.2,1990.6 2013.2,1992 2015.2,1993.7 2017.2,1995.6 2019.2,1997.8 2021.2,2000.1 2023.2,2002.6 2025.2,2005.1 2027.2,2007.8 2029.2,2010.5 2031.2,2013.2 2033.2,2015.9 2035.2,2018.4 2037.2,2020.9 2039.2,2023.2 2041.2,2025.3 2043.2,2027.2 2045.2,2028.8 2047.2,2030.1 2049.3,2031.2 2051.3,2031.9 2053.3,2031.1 2055.3,2030 2057.3,2028.6 2059.3,2026.9 2061.3,2025 2063.3,2022.8 2065.3,2020.5 2067.3,2018.1 2069.3,2015.5 2071.3,2012.8 2073.3,2010.1 2075.3,2007.4 2077.3,2004.7 2079.3,2002.2 2081.3,1999.7 2083.3,1997.4 2085.3,1995.3 2087.3,1993.4 2089.3,1991.8 2091.3,1990.5 2093.3,1989.4 2095.3,1988.7 2097.3,1988.2 2099.3,1988.1 2101.3,1988.4 2103.3,1988.5 2105.3,1988.2 2107.3,1988.2 2109.3,1988.5 2111.3,1989.1 2113.3,1990.1 2115.3,1991.4 2117.3,1992.9 2119.3,1994.7 2121.3,1996.8 2123.3,1999 2125.3,2001.4 2127.3,2003.9 2129.3,2006.6 2131.3,2009.3 2133.3,2012 2135.3,2014.7 2137.3,2017.3 2139.3,2019.8 2141.3,2022.2 2143.3,2024.3 2145.3,2026.3 2147.3,2028.1 2149.3,2029.6 2151.3,2030.8 2153.3,2031.6 2155.3,2031.5 2157.3,2030.5 2159.3,2029.2 2161.3,2027.7 2163.3,2025.9 2165.3,2023.8 2167.3,2021.6 2169.3,2019.2 2171.4,2016.7 2173.4,2014 2175.4,2011.3 2177.4,2008.6 2179.4,2006 2181.4,2003.3 2183.4,2000.8 2185.4,1998.5 2187.4,1996.3 2189.4,1994.3 2191.4,1992.5 2193.4,1991 2195.4,1989.8 2197.4,1989 2199.4,1988.4 2201.4,1988.1 2203.4,1988.2 2205.4,1988.6 2207.4,1988.3 2209.4,1988.1 2211.4,1988.3 2213.4,1988.8 2215.4,1989.6 2217.4,1990.8 2219.4,1992.2 2221.4,1993.9 2223.4,1995.8 2225.4,1998 2227.4,2000.3 2229.4,2002.8 2231.4,2005.4 2233.4,2008 2235.4,2010.7 2237.4,2013.4 2239.4,2016.1 2241.4,2018.6 2243.4,2021.1 2245.4,2023.4 2247.4,2025.5 2249.4,2027.3 2251.4,2028.9 2253.4,2030.2 2255.4,2031.3 2257.4,2031.8 2259.4,2031 2261.4,2029.8 2263.4,2028.4 2265.4,2026.7 2267.4,2024.8 2269.4,2022.7 2271.4,2020.3 2273.4,2017.8 2275.4,2015.2 2277.4,2012.6 2279.4,2009.9 2281.4,2007.2 2283.4,2004.5 2285.4,2002 2287.4,1999.5 2289.4,1997.2 2291.4,1995.2 2293.5,1993.3 2295.5,1991.7 2297.5,1990.4 2299.5,1989.3 2301.5,1988.6 2303.5,1988.2 2305.5,1988.1 2307.5,1988.4 2309.5,1988.5 2311.5,1988.2 2313.5,1988.2 2315.5,1988.5 2317.5,1989.2 2319.5,1990.2 2321.5,1991.5 2323.5,1993.1 2325.5,1994.9 2327.5,1996.9 2329.5,1999.2 2331.5,2001.6 2333.5,2004.2 2335.5,2006.8 2337.5,2009.5 2339.5,2012.2 2341.5,2014.9 2343.5,2017.5 2345.5,2020 2347.5,2022.3 2349.5,2024.5 2351.5,2026.5 2353.5,2028.2 2355.5,2029.7 2357.5,2030.8 2359.5,2031.7 2361.5,2031.4 2363.5,2030.4 2365.5,2029.1 2367.5,2027.5 2369.5,2025.7 2371.5,2023.7 2373.5,2021.4 2375.5,2019 2377.5,2016.4 2379.5,2013.8 2381.5,2011.1 2383.5,2008.4 2385.5,2005.7 2387.5,2003.1 2389.5,2000.6 2391.5,1998.3 2393.5,1996.1 2395.5,1994.1 2397.5,1992.4 2399.5,1990.9 2401.5,1989.8 2403.5,1988.9 2405.5,1988.4 2407.5,1988.1 2409.5,1988.2 2411.5,1988.7 2413.5,1988.3 2415.5,1988.1 2417.6,1988.3 2419.6,1988.9 2421.6,1989.7 2423.6,1990.9 2425.6,1992.3 2427.6,1994 2429.6,1996 2431.6,1998.1 2433.6,2000.5 2435.6,2003 2437.6,2005.6 2439.6,2008.3 2441.6,2011 2443.6,2013.7 2445.6,2016.3 2447.6,2018.9 2449.6,2021.3 2451.6,2023.5 2453.6,2025.6 2455.6,2027.5 2457.6,2029 2459.6,2030.3 2461.6,2031.3 2463.6,2031.7 2465.6,2030.9 2467.6,2029.7 2469.6,2028.3 2471.6,2026.6 2473.6,2024.6 2475.6,2022.5 2477.6,2020.1 2479.6,2017.6 2481.6,2015 2483.6,2012.3 2485.6,2009.6 2487.6,2006.9 2489.6,2004.3 2491.6,2001.7 2493.6,1999.3 2495.6,1997.1 2497.6,1995 2499.6,1993.2 2501.6,1991.6 2503.6,1990.3 2505.6,1989.3 2507.6,1988.6 2509.6,1988.2 2511.6,1988.2 2513.6,1988.4 2515.6,1988.4 2517.6,1988.1 2519.6,1988.2 2521.6,1988.6 2523.6,1989.3 2525.6,1990.3 2527.6,1991.6 2529.6,1993.2 2531.6,1995 2533.6,1997.1 2535.6,1999.4 2537.6,2001.8 2539.7,2004.4 2541.7,2007 2543.7,2009.7 2545.7,2012.4 2547.7,2015.1 2549.7,2017.7 2551.7,2020.2 2553.7,2022.5 2555.7,2024.7 2557.7,2026.6 2559.7,2028.3 2561.7,2029.8 2563.7,2030.9 2565.7,2031.8 2567.7,2031.3 2569.7,2030.3 2571.7,2029 2573.7,2027.4 2575.7,2025.6 2577.7,2023.5 2579.7,2021.2 2581.7,2018.8 2583.7,2016.2 2585.7,2013.6 2587.7,2010.9 2589.7,2008.2 2591.7,2005.5 2593.7,2002.9 2595.7,2000.4 2597.7,1998.1 2599.7,1995.9 2601.7,1994 2603.7,1992.3 2605.7,1990.8 2607.7,1989.7 2609.7,1988.8 2611.7,1988.3 2613.7,1988.1 2615.7,1988.3 2617.7,1988.7 2619.7,1988.2 2621.7,1988.1 2623.7,1988.4 2625.7,1988.9 2627.7,1989.8 2629.7,1991 2631.7,1992.4 2633.7,1994.2 2635.7,1996.1 2637.7,1998.3 2639.7,2000.7 2641.7,2003.2 2643.7,2005.8 2645.7,2008.5 2647.7,2011.2 2649.7,2013.9 2651.7,2016.5 2653.7,2019.1 2655.7,2021.5 2657.7,2023.7 2659.7,2025.8 2661.8,2027.6 2663.8,2029.2 2665.8,2030.4 2667.8,2031.4 2669.8,2031.7 2671.8,2030.8 2673.8,2029.6 2675.8,2028.2 2677.8,2026.4 2679.8,2024.5 2681.8,2022.3 2683.8,2019.9 2685.8,2017.4 2687.8,2014.8 2689.8,2012.1 2691.8,2009.4 2693.8,2006.7 2695.8,2004.1 2697.8,2001.5 2699.8,1999.1 2701.8,1996.9 2703.8,1994.8 2705.8,1993 2707.8,1991.4 2709.8,1990.2 2711.8,1989.2 2713.8,1988.5 2715.8,1988.2 2717.8,1988.2 2719.8,1988.5 2721.8,1988.4 2723.8,1988.1 2725.8,1988.2 2727.8,1988.6 2729.8,1989.4 2731.8,1990.4 2733.8,1991.7 2735.8,1993.3 2737.8,1995.2 2739.8,1997.3 2741.8,1999.6 2743.8,2002 2745.8,2004.6 2747.8,2007.3 2749.8,2010 2751.8,2012.7 2753.8,2015.3 2755.8,2017.9 2757.8,2020.4 2759.8,2022.7 2761.8,2024.9 2763.8,2026.8 2765.8,2028.5 2767.8,2029.9 2769.8,2031 2771.8,2031.8 2773.8,2031.2 2775.8,2030.2 2777.8,2028.9 2779.8,2027.3 2781.8,2025.4 2783.8,2023.3 2785.9,2021 2787.9,2018.6 2789.9,2016 2791.9,2013.4 2793.9,2010.7 2795.9,2008 2797.9,2005.3 2799.9,2002.7 2801.9,2000.2 2803.9,1997.9 2805.9,1995.7 2807.9,1993.8 2809.9,1992.1 2811.9,1990.7 2813.9,1989.6 2815.9,1988.8 2817.9,1988.3 2819.9,1988.1 2821.9,1988.3 2823.9,1988.6 2825.9,1988.2 2827.9,1988.1 2829.9,1988.4 2831.9,1989 2833.9,1989.9 2835.9,1991.1 2837.9,1992.6 2839.9,1994.3 2841.9,1996.3 2843.9,1998.5 2845.9,2000.9 2847.9,2003.4 2849.9,2006 2851.9,2008.7 2853.9,2011.4 2855.9,2014.1 2857.9,2016.7 2859.9,2019.3 2861.9,2021.7 2863.9,2023.9 2865.9,2025.9 2867.9,2027.7 2869.9,2029.3 2871.9,2030.5 2873.9,2031.5 2875.9,2031.6 2877.9,2030.7 2879.9,2029.5 2881.9,2028 2883.9,2026.3 2885.9,2024.3 2887.9,2022.1 2889.9,2019.7 2891.9,2017.2 2893.9,2014.6 2895.9,2011.9 2897.9,2009.2 2899.9,2006.5 2901.9,2003.9 2903.9,2001.3 2905.9,1998.9 2908,1996.7 2910,1994.7 2912,1992.9 2914,1991.3 2916,1990.1 2918,1989.1 2920,1988.5 2922,1988.2 2924,1988.2 2926,1988.5 2928,1988.4 2930,1988.1 2932,1988.2 2934,1988.7 2936,1989.4 2938,1990.5 2940,1991.9 2942,1993.5 2944,1995.4 2946,1997.5 2948,1999.8 2950,2002.2 2952,2004.8 2954,2007.5 2956,2010.2 2958,2012.9 2960,2015.5 2962,2018.1 2964,2020.6 2966,2022.9 2968,2025 2968,2033.8 2966,2032.6 2964,2031.2 2962,2029.4 2960,2027.5 2958,2025.3 2956,2022.9 2954,2020.4 2952,2017.8 2950,2015.1 2948,2012.4 2946,2009.7 2944,2007.1 2942,2004.6 2940,2002.1 2938,1999.9 2936,1997.8 2934,1996 2932,1994.5 2930,1993.2 2928,1992.2 2926,1991.9 2924,1992.8 2922,1994 2920,1995.4 2918,1997.1 2916,1999.1 2914,2001.3 2912,2003.7 2910,2006.2 2908,2008.8 2905.9,2011.4 2903.9,2014.2 2901.9,2016.8 2899.9,2019.5 2897.9,2022 2895.9,2024.4 2893.9,2026.7 2891.9,2028.8 2889.9,2030.6 2887.9,2032.1 2885.9,2033.4 2883.9,2034.4 2881.9,2035.1 2879.9,2035.4 2877.9,2035.4 2875.9,2035.1 2873.9,2035.2 2871.9,2035.5 2869.9,2035.4 2867.9,2035 2865.9,2034.3 2863.9,2033.2 2861.9,2031.9 2859.9,2030.3 2857.9,2028.4 2855.9,2026.3 2853.9,2024 2851.9,2021.6 2849.9,2019 2847.9,2016.4 2845.9,2013.7 2843.9,2011 2841.9,2008.3 2839.9,2005.7 2837.9,2003.2 2835.9,2000.9 2833.9,1998.8 2831.9,1996.8 2829.9,1995.1 2827.9,1993.7 2825.9,1992.6 2823.9,1991.8 2821.9,1992.3 2819.9,1993.4 2817.9,1994.7 2815.9,1996.3 2813.9,1998.2 2811.9,2000.3 2809.9,2002.6 2807.9,2005 2805.9,2007.6 2803.9,2010.2 2801.9,2012.9 2799.9,2015.6 2797.9,2018.3 2795.9,2020.9 2793.9,2023.4 2791.9,2025.7 2789.9,2027.8 2787.9,2029.8 2785.9,2031.5 2783.8,2032.9 2781.8,2034 2779.8,2034.8 2777.8,2035.3 2775.8,2035.5 2773.8,2035.3 2771.8,2035 2769.8,2035.4 2767.8,2035.5 2765.8,2035.2 2763.8,2034.6 2761.8,2033.7 2759.8,2032.5 2757.8,2031 2755.8,2029.3 2753.8,2027.3 2751.8,2025.1 2749.8,2022.7 2747.8,2020.2 2745.8,2017.6 2743.8,2014.9 2741.8,2012.2 2739.8,2009.5 2737.8,2006.9 2735.8,2004.4 2733.8,2001.9 2731.8,1999.7 2729.8,1997.7 2727.8,1995.9 2725.8,1994.3 2723.8,1993.1 2721.8,1992.1 2719.8,1992 2717.8,1992.9 2715.8,1994.1 2713.8,1995.6 2711.8,1997.3 2709.8,1999.3 2707.8,2001.5 2705.8,2003.9 2703.8,2006.4 2701.8,2009 2699.8,2011.7 2697.8,2014.4 2695.8,2017.1 2693.8,2019.7 2691.8,2022.2 2689.8,2024.6 2687.8,2026.9 2685.8,2028.9 2683.8,2030.7 2681.8,2032.3 2679.8,2033.5 2677.8,2034.5 2675.8,2035.1 2673.8,2035.4 2671.8,2035.4 2669.8,2035.1 2667.8,2035.2 2665.8,2035.5 2663.8,2035.4 2661.8,2034.9 2659.7,2034.2 2657.7,2033.1 2655.7,2031.8 2653.7,2030.1 2651.7,2028.2 2649.7,2026.1 2647.7,2023.8 2645.7,2021.4 2643.7,2018.8 2641.7,2016.1 2639.7,2013.5 2637.7,2010.7 2635.7,2008.1 2633.7,2005.5 2631.7,2003 2629.7,2000.7 2627.7,1998.6 2625.7,1996.7 2623.7,1995 2621.7,1993.6 2619.7,1992.5 2617.7,1991.7 2615.7,1992.4 2613.7,1993.5 2611.7,1994.8 2609.7,1996.5 2607.7,1998.4 2605.7,2000.5 2603.7,2002.8 2601.7,2005.2 2599.7,2007.8 2597.7,2010.4 2595.7,2013.1 2593.7,2015.8 2591.7,2018.5 2589.7,2021.1 2587.7,2023.6 2585.7,2025.9 2583.7,2028 2581.7,2029.9 2579.7,2031.6 2577.7,2033 2575.7,2034.1 2573.7,2034.9 2571.7,2035.3 2569.7,2035.5 2567.7,2035.3 2565.7,2035 2563.7,2035.4 2561.7,2035.5 2559.7,2035.2 2557.7,2034.6 2555.7,2033.6 2553.7,2032.4 2551.7,2030.9 2549.7,2029.1 2547.7,2027.1 2545.7,2024.9 2543.7,2022.5 2541.7,2020 2539.7,2017.4 2537.6,2014.7 2535.6,2012 2533.6,2009.3 2531.6,2006.7 2529.6,2004.1 2527.6,2001.8 2525.6,1999.5 2523.6,1997.5 2521.6,1995.7 2519.6,1994.2 2517.6,1993 2515.6,1992.1 2513.6,1992 2511.6,1993 2509.6,1994.2 2507.6,1995.7 2505.6,1997.5 2503.6,1999.5 2501.6,2001.7 2499.6,2004.1 2497.6,2006.6 2495.6,2009.2 2493.6,2011.9 2491.6,2014.6 2489.6,2017.3 2487.6,2019.9 2485.6,2022.4 2483.6,2024.8 2481.6,2027.1 2479.6,2029.1 2477.6,2030.9 2475.6,2032.4 2473.6,2033.6 2471.6,2034.5 2469.6,2035.2 2467.6,2035.4 2465.6,2035.4 2463.6,2035 2461.6,2035.3 2459.6,2035.5 2457.6,2035.3 2455.6,2034.9 2453.6,2034.1 2451.6,2033 2449.6,2031.6 2447.6,2030 2445.6,2028.1 2443.6,2025.9 2441.6,2023.6 2439.6,2021.2 2437.6,2018.6 2435.6,2015.9 2433.6,2013.2 2431.6,2010.5 2429.6,2007.9 2427.6,2005.3 2425.6,2002.8 2423.6,2000.5 2421.6,1998.4 2419.6,1996.5 2417.6,1994.9 2415.5,1993.5 2413.5,1992.4 2411.5,1991.7 2409.5,1992.5 2407.5,1993.6 2405.5,1995 2403.5,1996.6 2401.5,1998.5 2399.5,2000.6 2397.5,2003 2395.5,2005.4 2393.5,2008 2391.5,2010.7 2389.5,2013.4 2387.5,2016.1 2385.5,2018.7 2383.5,2021.3 2381.5,2023.8 2379.5,2026.1 2377.5,2028.2 2375.5,2030.1 2373.5,2031.7 2371.5,2033.1 2369.5,2034.2 2367.5,2034.9 2365.5,2035.4 2363.5,2035.5 2361.5,2035.2 2359.5,2035.1 2357.5,2035.4 2355.5,2035.4 2353.5,2035.1 2351.5,2034.5 2349.5,2033.5 2347.5,2032.3 2345.5,2030.8 2343.5,2029 2341.5,2026.9 2339.5,2024.7 2337.5,2022.3 2335.5,2019.8 2333.5,2017.2 2331.5,2014.5 2329.5,2011.8 2327.5,2009.1 2325.5,2006.5 2323.5,2003.9 2321.5,2001.6 2319.5,1999.4 2317.5,1997.4 2315.5,1995.6 2313.5,1994.1 2311.5,1992.9 2309.5,1992 2307.5,1992.1 2305.5,1993 2303.5,1994.3 2301.5,1995.8 2299.5,1997.6 2297.5,1999.6 2295.5,2001.9 2293.5,2004.3 2291.4,2006.8 2289.4,2009.4 2287.4,2012.1 2285.4,2014.8 2283.4,2017.5 2281.4,2020.1 2279.4,2022.7 2277.4,2025 2275.4,2027.2 2273.4,2029.2 2271.4,2031 2269.4,2032.5 2267.4,2033.7 2265.4,2034.6 2263.4,2035.2 2261.4,2035.5 2259.4,2035.4 2257.4,2035 2255.4,2035.3 2253.4,2035.5 2251.4,2035.3 2249.4,2034.8 2247.4,2034 2245.4,2032.9 2243.4,2031.5 2241.4,2029.8 2239.4,2027.9 2237.4,2025.8 2235.4,2023.4 2233.4,2021 2231.4,2018.4 2229.4,2015.7 2227.4,2013 2225.4,2010.3 2223.4,2007.6 2221.4,2005.1 2219.4,2002.6 2217.4,2000.3 2215.4,1998.2 2213.4,1996.4 2211.4,1994.8 2209.4,1993.4 2207.4,1992.4 2205.4,1991.8 2203.4,1992.6 2201.4,1993.7 2199.4,1995.1 2197.4,1996.8 2195.4,1998.7 2193.4,2000.8 2191.4,2003.2 2189.4,2005.6 2187.4,2008.2 2185.4,2010.9 2183.4,2013.6 2181.4,2016.3 2179.4,2018.9 2177.4,2021.5 2175.4,2024 2173.4,2026.3 2171.4,2028.3 2169.3,2030.2 2167.3,2031.8 2165.3,2033.2 2163.3,2034.2 2161.3,2035 2159.3,2035.4 2157.3,2035.5 2155.3,2035.2 2153.3,2035.1 2151.3,2035.4 2149.3,2035.4 2147.3,2035.1 2145.3,2034.4 2143.3,2033.5 2141.3,2032.2 2139.3,2030.6 2137.3,2028.8 2135.3,2026.8 2133.3,2024.5 2131.3,2022.1 2129.3,2019.6 2127.3,2016.9 2125.3,2014.2 2123.3,2011.5 2121.3,2008.9 2119.3,2006.2 2117.3,2003.7 2115.3,2001.4 2113.3,1999.2 2111.3,1997.2 2109.3,1995.5 2107.3,1994 2105.3,1992.8 2103.3,1991.9 2101.3,1992.2 2099.3,1993.1 2097.3,1994.4 2095.3,1996 2093.3,1997.8 2091.3,1999.8 2089.3,2002.1 2087.3,2004.5 2085.3,2007 2083.3,2009.7 2081.3,2012.4 2079.3,2015.1 2077.3,2017.7 2075.3,2020.4 2073.3,2022.9 2071.3,2025.2 2069.3,2027.4 2067.3,2029.4 2065.3,2031.1 2063.3,2032.6 2061.3,2033.8 2059.3,2034.7 2057.3,2035.2 2055.3,2035.5 2053.3,2035.4 2051.3,2034.9 2049.3,2035.3 2047.2,2035.5 2045.2,2035.3 2043.2,2034.8 2041.2,2033.9 2039.2,2032.8 2037.2,2031.4 2035.2,2029.7 2033.2,2027.7 2031.2,2025.6 2029.2,2023.2 2027.2,2020.7 2025.2,2018.1 2023.2,2015.5 2021.2,2012.8 2019.2,2010.1 2017.2,2007.4 2015.2,2004.9 2013.2,2002.4 2011.2,2000.2 2009.2,1998.1 2007.2,1996.2 2005.2,1994.6 2003.2,1993.3 2001.2,1992.3 1999.2,1991.8 1997.2,1992.7 1995.2,1993.8 1993.2,1995.2 1991.2,1996.9 1989.2,1998.9 1987.2,2001 1985.2,2003.4 1983.2,2005.8 1981.2,2008.4 1979.2,2011.1 1977.2,2013.8 1975.2,2016.5 1973.2,2019.2 1971.2,2021.7 1969.2,2024.2 1967.2,2026.4 1965.2,2028.5 1963.2,2030.4 1961.2,2032 1959.2,2033.3 1957.2,2034.3 1955.2,2035 1953.2,2035.4 1951.2,2035.5 1949.2,2035.2 1947.2,2035.1 1945.2,2035.4 1943.2,2035.4 1941.2,2035 1939.2,2034.4 1937.2,2033.4 1935.2,2032.1 1933.2,2030.5 1931.2,2028.6 1929.2,2026.6 1927.2,2024.3 1925.2,2021.9 1923.1,2019.3 1921.1,2016.7 1919.1,2014 1917.1,2011.3 1915.1,2008.6 1913.1,2006 1911.1,2003.5 1909.1,2001.2 1907.1,1999 1905.1,1997 1903.1,1995.3 1901.1,1993.9 1899.1,1992.7 1897.1,1991.9 1895.1,1992.2 1893.1,1993.2 1891.1,1994.5 1889.1,1996.1 1887.1,1997.9 1885.1,2000 1883.1,2002.3 1881.1,2004.7 1879.1,2007.2 1877.1,2009.9 1875.1,2012.6 1873.1,2015.3 1871.1,2018 1869.1,2020.6 1867.1,2023.1 1865.1,2025.4 1863.1,2027.6 1861.1,2029.5 1859.1,2031.3 1857.1,2032.7 1855.1,2033.9 1853.1,2034.7 1851.1,2035.3 1849.1,2035.5 1847.1,2035.3 1845.1,2034.9 1843.1,2035.4 1841.1,2035.5 1839.1,2035.3 1837.1,2034.7 1835.1,2033.9 1833.1,2032.7 1831.1,2031.2 1829.1,2029.5 1827.1,2027.6 1825.1,2025.4 1823.1,2023 1821.1,2020.5 1819.1,2017.9 1817.1,2015.2 1815.1,2012.5 1813.1,2009.8 1811.1,2007.2 1809.1,2004.7 1807.1,2002.2 1805.1,2000 1803.1,1997.9 1801,1996.1 1799,1994.5 1797,1993.2 1795,1992.2 1793,1991.9 1791,1992.7 1789,1993.9 1787,1995.4 1785,1997.1 1783,1999 1781,2001.2 1779,2003.6 1777,2006.1 1775,2008.7 1773,2011.3 1771,2014 1769,2016.7 1767,2019.4 1765,2021.9 1763,2024.4 1761,2026.6 1759,2028.7 1757,2030.5 1755,2032.1 1753,2033.4 1751,2034.4 1749,2035.1 1747,2035.4 1745,2035.4 1743,2035.1 1741,2035.2" fill="url(#dgo)"/></g>
<g transform="translate(1966,0)"><path d="M-70,437.5 C-60,432 -48,435 -42,441 C-26,458 -4.5,466 -2.6,492 L-2.2,647 Q-30,658 -59,642.5 L-59,574 C-59,545 -31,532 -31,509 C-31,489 -56,470 -73,447 Q-76.5,441 -70,437.5 Z" fill="url(#chy)"/><g transform="scale(-1,1)"><path d="M-70,437.5 C-60,432 -48,435 -42,441 C-26,458 -4.5,466 -2.6,492 L-2.2,647 Q-30,658 -59,642.5 L-59,574 C-59,545 -31,532 -31,509 C-31,489 -56,470 -73,447 Q-76.5,441 -70,437.5 Z" fill="url(#chy)"/></g></g>
<g transform="translate(2200.6,0)" filter="url(#blur1)"><path d="M-70,437.5 C-60,432 -48,435 -42,441 C-26,458 -4.5,466 -2.6,492 L-2.2,647 Q-30,658 -59,642.5 L-59,574 C-59,545 -31,532 -31,509 C-31,489 -56,470 -73,447 Q-76.5,441 -70,437.5 Z" fill="url(#chb)"/><g transform="scale(-1,1)"><path d="M-70,437.5 C-60,432 -48,435 -42,441 C-26,458 -4.5,466 -2.6,492 L-2.2,647 Q-30,658 -59,642.5 L-59,574 C-59,545 -31,532 -31,509 C-31,489 -56,470 -73,447 Q-76.5,441 -70,437.5 Z" fill="url(#chb)"/></g></g>
<g id="shapes"><g transform="translate(2283,331) rotate(-19.5)"><ellipse rx="130" ry="58" fill="url(#gtf)" stroke="#000" stroke-width="6"/><text x="0" y="20" font-size="68" text-anchor="middle" font-weight="bold">TF</text></g><g transform="translate(2145,316) rotate(-19)"><ellipse rx="76" ry="48" fill="url(#gfe)" stroke="#000" stroke-width="6.3"/><text x="-56" y="25.7" font-size="68">Fe<tspan font-size="45.4" dy="-20.2">III</tspan></text></g><g transform="translate(2366.8,220.5) rotate(-20.5)"><ellipse rx="76" ry="48" fill="url(#gfe)" stroke="#000" stroke-width="6.3"/><text x="-56" y="25.7" font-size="68">Fe<tspan font-size="45.4" dy="-20.2">III</tspan></text></g><g transform="translate(1974.5,366.3) rotate(0)"><ellipse rx="76.2" ry="48.9" fill="url(#gfe)" stroke="#000" stroke-width="6.3"/><text x="-56" y="25.7" font-size="68">Fe<tspan font-size="45.4" dy="-20.2">III</tspan></text></g><g transform="translate(2220.6,795) rotate(0)"><ellipse rx="76.4" ry="48.2" fill="url(#gfe)" stroke="#000" stroke-width="6.3"/><text x="-56" y="25.7" font-size="68">Fe<tspan font-size="45.4" dy="-20.2">III</tspan></text></g><g transform="translate(2603.6,325.3) rotate(0)"><ellipse rx="130.5" ry="59.3" fill="url(#gco)" stroke="#1cb0f0" stroke-width="6"/><text x="0" y="22.9" font-size="64" text-anchor="middle" font-weight="bold">Co(II)</text></g><g transform="translate(3574,1313.3) rotate(0)"><ellipse rx="130.5" ry="59" fill="url(#gco)" stroke="#1cb0f0" stroke-width="6"/><text x="0" y="22.9" font-size="64" text-anchor="middle" font-weight="bold">Co(II)</text></g><g transform="translate(2909.7,273.6) rotate(0)"><ellipse rx="156.5" ry="66.5" fill="url(#gy)" stroke="#ff1a00" stroke-width="6"/><text x="0" y="24.3" font-size="68" text-anchor="middle" font-weight="bold">Heme</text></g><g transform="translate(3188,367.6) rotate(-5)"><ellipse rx="157" ry="67" fill="url(#gy)" stroke="#000" stroke-width="6.2"/><text x="0" y="24.3" font-size="68" text-anchor="middle" font-weight="bold">Hb</text></g><g transform="translate(3710.4,217.8) rotate(0)"><ellipse rx="157.5" ry="67.1" fill="url(#gy)" stroke="#128a12" stroke-width="6.5"/><text x="0" y="24.3" font-size="68" text-anchor="middle" font-weight="bold">Hp</text></g><g transform="translate(2680,756.3) rotate(4)"><ellipse rx="158" ry="66" fill="url(#gy)" stroke="#ff1a00" stroke-width="6"/><text x="0" y="24.3" font-size="68" text-anchor="middle" font-weight="bold">Heme</text></g><g transform="translate(3380,905.6) rotate(-4.8)"><ellipse rx="157" ry="66" fill="url(#gy)" stroke="#000" stroke-width="6"/><text x="0" y="24.3" font-size="68" text-anchor="middle" font-weight="bold">Hb</text></g><g transform="translate(3130.5,1358.4) rotate(8)"><ellipse rx="157" ry="66" fill="url(#gy)" stroke="#128a12" stroke-width="6.2"/><text x="0" y="24.3" font-size="68" text-anchor="middle" font-weight="bold">Hp</text></g><g transform="translate(730.7,1796) rotate(0)"><ellipse rx="186" ry="79" fill="url(#gct)" stroke="#ffd966" stroke-width="6"/><text x="0" y="24.1" font-size="67.2" text-anchor="middle" font-weight="bold">Contrast</text></g></g>
<g id="star"><polygon points="965,203.9 1093.9,179.9 1003.9,133.4 1142,125.6 1114.1,61.9 1249.2,103.9 1288,35.5 1345.5,72.2 1455.7,7.8 1448,94.5 1564.4,54.8 1508.5,107 1685.5,108.5 1528.7,150.4 1570.6,179.9 1510,195.5 1592.4,246.7 1444.8,227.5 1461.9,282.4 1370.3,251.4 1350.1,293.9 1292.7,273.1 1253.9,308.8 1215,276.2 1128.1,337.4 1123.4,277.8 1007,271.6 1072.2,242" fill="#ff8700" stroke="#000" stroke-width="2.2" stroke-linejoin="miter"/><polygon points="973.2,202.9 1099.1,179.4 1011.2,134 1146.1,126.4 1118.9,64.1 1250.9,105.2 1288.8,38.3 1345,74.2 1452.7,11.3 1445.2,96 1558.9,57.2 1504.3,108.2 1677.3,109.7 1524,150.6 1565,179.4 1505.8,194.7 1586.3,244.7 1442,226 1458.8,279.6 1369.2,249.3 1349.5,290.9 1293.4,270.5 1255.5,305.4 1217.5,273.6 1132.5,333.4 1128,275.1 1014.2,269.1 1077.9,240.1" fill="#ff5e00"/><polygon points="981.3,201.9 1104.3,179 1018.4,134.6 1150.3,127.2 1123.6,66.4 1252.6,106.4 1289.6,41.1 1344.5,76.2 1449.7,14.7 1442.3,97.5 1553.5,59.6 1500.1,109.4 1669.1,110.8 1519.4,150.8 1559.4,179 1501.5,193.9 1580.2,242.8 1439.3,224.4 1455.6,276.8 1368.2,247.2 1348.9,287.8 1294.1,268 1257.1,302 1219.9,270.9 1137,329.3 1132.5,272.4 1021.4,266.5 1083.6,238.3" fill="#ff3500"/><polygon points="989.5,200.9 1109.6,178.5 1025.7,135.2 1154.4,127.9 1128.4,68.6 1254.3,107.7 1290.4,44 1344,78.2 1446.7,18.2 1439.5,99 1548,62 1495.9,110.6 1660.8,112 1514.7,151 1553.8,178.5 1497.3,193.1 1574.1,240.8 1436.5,222.9 1452.5,274 1367.1,245.2 1348.3,284.8 1294.8,265.4 1258.7,298.6 1222.4,268.3 1141.4,325.3 1137.1,269.8 1028.6,264 1089.3,236.4" fill="#ff2300"/><polygon points="997.6,199.9 1114.8,178.1 1033,135.8 1158.5,128.7 1133.2,70.8 1256,109 1291.2,46.8 1343.5,80.2 1443.7,21.6 1436.7,100.4 1542.5,64.3 1491.7,111.8 1652.6,113.2 1510.1,151.3 1548.2,178.1 1493.1,192.3 1568,238.8 1433.8,221.3 1449.3,271.3 1366.1,243.1 1347.7,281.7 1295.5,262.8 1260.2,295.3 1224.9,265.6 1145.9,321.3 1141.6,267.1 1035.8,261.4 1095.1,234.5" fill="#ff1600"/><polygon points="1005.8,198.9 1120,177.6 1040.2,136.4 1162.6,129.5 1137.9,73 1257.7,110.3 1292.1,49.6 1343,82.2 1440.7,25.1 1433.9,101.9 1537,66.7 1487.5,113 1644.4,114.3 1505.4,151.5 1542.5,177.6 1488.8,191.4 1561.9,236.8 1431,219.8 1446.2,268.5 1365,241 1347.1,278.7 1296.2,260.2 1261.8,291.9 1227.4,263 1150.3,317.2 1146.2,264.4 1043,258.9 1100.8,232.7" fill="#ff0900"/><polygon points="1013.9,197.9 1125.2,177.2 1047.5,137 1166.8,130.3 1142.7,75.2 1259.4,111.5 1292.9,52.5 1342.5,84.1 1437.7,28.5 1431,103.4 1531.6,69.1 1483.3,114.2 1636.2,115.5 1500.7,151.7 1536.9,177.2 1484.6,190.6 1555.8,234.8 1428.3,218.3 1443.1,265.7 1363.9,238.9 1346.5,275.6 1296.9,257.7 1263.4,288.5 1229.8,260.3 1154.8,313.2 1150.7,261.7 1050.2,256.4 1106.5,230.8" fill="#fd0003"/><polygon points="1022.1,196.9 1130.5,176.7 1054.8,137.6 1170.9,131 1147.4,77.5 1261.1,112.8 1293.7,55.3 1342,86.1 1434.7,32 1428.2,104.9 1526.1,71.5 1479.1,115.4 1627.9,116.7 1496.1,151.9 1531.3,176.7 1480.4,189.8 1549.7,232.9 1425.5,216.7 1439.9,262.9 1362.9,236.8 1345.9,272.6 1297.6,255.1 1265,285.1 1232.3,257.7 1159.2,309.1 1155.3,259 1057.4,253.8 1112.2,228.9" fill="#f7000d"/><polygon points="1030.2,195.9 1135.7,176.2 1062,138.2 1175,131.8 1152.2,79.7 1262.7,114.1 1294.5,58.1 1341.5,88.1 1431.7,35.4 1425.4,106.4 1520.6,73.9 1474.9,116.6 1619.7,117.8 1491.4,152.1 1525.7,176.2 1476.1,189 1543.5,230.9 1422.8,215.2 1436.8,260.1 1361.8,234.7 1345.3,269.5 1298.3,252.5 1266.6,281.7 1234.8,255 1163.7,305.1 1159.8,256.3 1064.6,251.3 1117.9,227.1" fill="#f10016"/><polygon points="1038.4,194.9 1140.9,175.8 1069.3,138.8 1179.2,132.6 1157,81.9 1264.4,115.3 1295.3,60.9 1341,90.1 1428.7,38.9 1422.6,107.9 1515.2,76.3 1470.7,117.8 1611.5,119 1486.8,152.3 1520.1,175.8 1471.9,188.2 1537.4,228.9 1420,213.7 1433.6,257.3 1360.8,232.7 1344.7,266.5 1299,249.9 1268.2,278.3 1237.2,252.4 1168.1,301.1 1164.4,253.7 1071.8,248.7 1123.6,225.2" fill="#eb0020"/><polygon points="1046.5,193.9 1146.1,175.3 1076.6,139.4 1183.3,133.4 1161.7,84.2 1266.1,116.6 1296.1,63.8 1340.5,92.1 1425.7,42.3 1419.8,109.3 1509.7,78.7 1466.5,119 1603.3,120.2 1482.1,152.5 1514.5,175.3 1467.7,187.4 1531.3,226.9 1417.3,212.1 1430.5,254.5 1359.7,230.6 1344.1,263.4 1299.7,247.4 1269.8,274.9 1239.7,249.7 1172.6,297 1168.9,251 1079,246.2 1129.4,223.3" fill="#e5002a"/><polygon points="1054.7,192.9 1151.4,174.9 1083.8,140 1187.4,134.2 1166.5,86.4 1267.8,117.9 1296.9,66.6 1340,94.1 1422.7,45.8 1416.9,110.8 1504.2,81 1462.3,120.2 1595,121.3 1477.5,152.8 1508.9,174.9 1463.4,186.6 1525.2,225 1414.5,210.6 1427.4,251.8 1358.7,228.5 1343.5,260.4 1300.5,244.8 1271.4,271.6 1242.2,247.1 1177,293 1173.5,248.3 1086.2,243.7 1135.1,221.4" fill="#df0034"/><polygon points="1062.8,191.9 1156.6,174.4 1091.1,140.6 1191.6,134.9 1171.3,88.6 1269.5,119.1 1297.7,69.4 1339.6,96.1 1419.7,49.3 1414.1,112.3 1498.8,83.4 1458.1,121.4 1586.8,122.5 1472.8,153 1503.3,174.4 1459.2,185.8 1519.1,223 1411.8,209 1424.2,249 1357.6,226.4 1342.9,257.3 1301.2,242.2 1272.9,268.2 1244.6,244.5 1181.4,289 1178,245.6 1093.4,241.1 1140.8,219.6" fill="#d9003e"/><polygon points="1071,190.9 1161.8,174 1098.4,141.2 1195.7,135.7 1176,90.8 1271.2,120.4 1298.5,72.2 1339.1,98.1 1416.7,52.7 1411.3,113.8 1493.3,85.8 1453.9,122.6 1578.6,123.7 1468.1,153.2 1497.7,174 1455,185 1513,221 1409,207.5 1421.1,246.2 1356.5,224.3 1342.3,254.3 1301.9,239.6 1274.5,264.8 1247.1,241.8 1185.9,284.9 1182.6,242.9 1100.6,238.6 1146.5,217.7" fill="#d10046"/><polygon points="1079.1,189.9 1167,173.5 1105.7,141.8 1199.8,136.5 1180.8,93 1272.9,121.7 1299.4,75 1338.6,100.1 1413.7,56.2 1408.5,115.3 1487.8,88.2 1449.7,123.8 1570.4,124.8 1463.5,153.4 1492,173.5 1450.7,184.1 1506.9,219.1 1406.3,206 1417.9,243.4 1355.5,222.3 1341.7,251.2 1302.6,237.1 1276.1,261.4 1249.6,239.2 1190.3,280.9 1187.1,240.3 1107.8,236 1152.2,215.8" fill="#c9004c"/><polygon points="1087.3,188.9 1172.2,173 1112.9,142.4 1203.9,137.3 1185.6,95.3 1274.6,123 1300.2,77.9 1338.1,102.1 1410.7,59.6 1405.6,116.8 1482.3,90.6 1445.5,125 1562.2,126 1458.8,153.6 1486.4,173 1446.5,183.3 1500.8,217.1 1403.5,204.4 1414.8,240.6 1354.4,220.2 1341.1,248.2 1303.3,234.5 1277.7,258 1252.1,236.5 1194.8,276.9 1191.7,237.6 1115,233.5 1157.9,214" fill="#c10053"/><polygon points="1095.4,187.9 1177.5,172.6 1120.2,143 1208.1,138 1190.3,97.5 1276.3,124.2 1301,80.7 1337.6,104.1 1407.7,63.1 1402.8,118.2 1476.9,93 1441.3,126.2 1553.9,127.2 1454.2,153.8 1480.8,172.6 1442.3,182.5 1494.7,215.1 1400.8,202.9 1411.6,237.8 1353.4,218.1 1340.5,245.1 1304,231.9 1279.3,254.6 1254.5,233.9 1199.2,272.8 1196.2,234.9 1122.2,230.9 1163.7,212.1" fill="#b9005a"/><polygon points="1103.6,186.9 1182.7,172.1 1127.5,143.6 1212.2,138.8 1195.1,99.7 1278,125.5 1301.8,83.5 1337.1,106 1404.7,66.5 1400,119.7 1471.4,95.4 1437.1,127.4 1545.7,128.3 1449.5,154 1475.2,172.1 1438,181.7 1488.6,213.1 1398,201.3 1408.5,235 1352.3,216 1339.9,242.1 1304.7,229.3 1280.9,251.2 1257,231.2 1203.7,268.8 1200.8,232.2 1129.4,228.4 1169.4,210.2" fill="#b00060"/><polygon points="1111.7,185.9 1187.9,171.7 1134.7,144.2 1216.3,139.6 1199.8,102 1279.7,126.8 1302.6,86.4 1336.6,108 1401.7,70 1397.2,121.2 1465.9,97.8 1432.9,128.6 1537.5,129.5 1444.8,154.2 1469.6,171.7 1433.8,180.9 1482.5,211.1 1395.3,199.8 1405.4,232.2 1351.2,213.9 1339.3,239 1305.4,226.8 1282.5,247.8 1259.5,228.6 1208.1,264.7 1205.3,229.5 1136.6,225.9 1175.1,208.4" fill="#a80067"/><polygon points="1119.9,184.9 1193.1,171.2 1142,144.8 1220.5,140.4 1204.6,104.2 1281.4,128 1303.4,89.2 1336.1,110 1398.7,73.4 1394.3,122.7 1460.5,100.1 1428.7,129.8 1529.3,130.7 1440.2,154.5 1464,171.2 1429.6,180.1 1476.4,209.2 1392.5,198.3 1402.2,229.5 1350.2,211.8 1338.7,236 1306.1,224.2 1284,244.5 1261.9,225.9 1212.6,260.7 1209.9,226.8 1143.8,223.3 1180.8,206.5" fill="#a0006e"/><polygon points="1128,183.9 1198.4,170.8 1149.3,145.4 1224.6,141.1 1209.4,106.4 1283.1,129.3 1304.2,92 1335.6,112 1395.7,76.9 1391.5,124.2 1455,102.5 1424.5,131 1521,131.8 1435.5,154.7 1458.4,170.8 1425.3,179.3 1470.3,207.2 1389.8,196.7 1399.1,226.7 1349.1,209.8 1338.1,232.9 1306.8,221.6 1285.6,241.1 1264.4,223.3 1217,256.7 1214.4,224.2 1151,220.8 1186.5,204.6" fill="#980075"/><polygon points="1136.2,182.9 1203.6,170.3 1156.5,146 1228.7,141.9 1214.1,108.6 1284.8,130.6 1305,94.8 1335.1,114 1392.7,80.3 1388.7,125.7 1449.5,104.9 1420.3,132.2 1512.8,133 1430.9,154.9 1452.8,170.3 1421.1,178.5 1464.2,205.2 1387,195.2 1395.9,223.9 1348.1,207.7 1337.5,229.9 1307.5,219 1287.2,237.7 1266.9,220.6 1221.5,252.6 1219,221.5 1158.2,218.2 1192.2,202.8" fill="#8f007b"/><polygon points="1144.3,181.9 1208.8,169.9 1163.8,146.6 1232.8,142.7 1218.9,110.9 1286.5,131.9 1305.8,97.7 1334.6,116 1389.7,83.8 1385.8,127.2 1444.1,107.3 1416.1,133.4 1504.6,134.2 1426.2,155.1 1447.2,169.9 1416.8,177.7 1458.1,203.2 1384.2,193.7 1392.8,221.1 1347,205.6 1336.9,226.8 1308.2,216.5 1288.8,234.3 1269.3,218 1225.9,248.6 1223.6,218.8 1165.3,215.7 1198,200.9" fill="#870082"/><polygon points="1152.5,180.8 1214,169.4 1171.1,147.2 1237,143.5 1223.7,113.1 1288.1,133.1 1306.7,100.5 1334.1,118 1386.7,87.3 1383,128.6 1438.6,109.7 1411.9,134.6 1496.4,135.3 1421.5,155.3 1441.5,169.4 1412.6,176.8 1451.9,201.3 1381.5,192.1 1389.7,218.3 1345.9,203.5 1336.3,223.8 1308.9,213.9 1290.4,230.9 1271.8,215.4 1230.3,244.6 1228.1,216.1 1172.5,213.2 1203.7,199" fill="#800084"/><polygon points="1160.7,179.8 1219.2,168.9 1178.3,147.8 1241.1,144.3 1228.4,115.3 1289.8,134.4 1307.5,103.3 1333.6,120 1383.7,90.7 1380.2,130.1 1433.1,112.1 1407.7,135.8 1488.2,136.5 1416.9,155.5 1435.9,168.9 1408.4,176 1445.8,199.3 1378.7,190.6 1386.5,215.5 1344.9,201.4 1335.7,220.8 1309.6,211.3 1292,227.5 1274.3,212.7 1234.8,240.5 1232.7,213.4 1179.7,210.6 1209.4,197.2" fill="#790086"/><polygon points="1168.8,178.8 1224.5,168.5 1185.6,148.4 1245.2,145 1233.2,117.5 1291.5,135.7 1308.3,106.1 1333.1,122 1380.7,94.2 1377.4,131.6 1427.6,114.5 1403.5,137 1479.9,137.6 1412.2,155.7 1430.3,168.5 1404.1,175.2 1439.7,197.3 1376,189 1383.4,212.7 1343.8,199.4 1335.1,217.7 1310.3,208.7 1293.6,224.1 1276.8,210.1 1239.2,236.5 1237.2,210.8 1186.9,208.1 1215.1,195.3" fill="#730087"/><polygon points="1177,177.8 1229.7,168 1192.9,149 1249.4,145.8 1238,119.8 1293.2,136.9 1309.1,109 1332.6,124 1377.7,97.6 1374.5,133.1 1422.2,116.8 1399.3,138.2 1471.7,138.8 1407.6,156 1424.7,168 1399.9,174.4 1433.6,195.3 1373.2,187.5 1380.2,210 1342.8,197.3 1334.5,214.7 1311,206.2 1295.1,220.8 1279.2,207.4 1243.7,232.5 1241.8,208.1 1194.1,205.5 1220.8,193.4" fill="#6c0089"/><polygon points="1185.1,176.8 1234.9,167.6 1200.1,149.6 1253.5,146.6 1242.7,122 1294.9,138.2 1309.9,111.8 1332.1,126 1374.7,101.1 1371.7,134.6 1416.7,119.2 1395.1,139.4 1463.5,140 1402.9,156.2 1419.1,167.6 1395.7,173.6 1427.5,193.4 1370.5,186 1377.1,207.2 1341.7,195.2 1333.9,211.6 1311.7,203.6 1296.7,217.4 1281.7,204.8 1248.1,228.4 1246.3,205.4 1201.3,203 1226.5,191.6" fill="#65008b"/><polygon points="1193.3,175.8 1240.1,167.1 1207.4,150.2 1257.6,147.4 1247.5,124.2 1296.6,139.5 1310.7,114.6 1331.6,127.9 1371.7,104.5 1368.9,136.1 1411.2,121.6 1390.9,140.6 1455.3,141.1 1398.2,156.4 1413.5,167.1 1391.4,172.8 1421.4,191.4 1367.7,184.4 1374,204.4 1340.6,193.1 1333.3,208.6 1312.4,201 1298.3,214 1284.2,202.1 1252.6,224.4 1250.9,202.7 1208.5,200.5 1232.2,189.7" fill="#5e008d"/><polygon points="1201.4,174.8 1245.4,166.7 1214.7,150.8 1261.8,148.1 1252.2,126.4 1298.3,140.7 1311.5,117.4 1331.1,129.9 1368.7,108 1366.1,137.5 1405.8,124 1386.7,141.8 1447,142.3 1393.6,156.6 1407.9,166.7 1387.2,172 1415.3,189.4 1365,182.9 1370.8,201.6 1339.6,191 1332.7,205.5 1313.1,198.4 1299.9,210.6 1286.6,199.5 1257,220.3 1255.4,200 1215.7,197.9 1238,187.8" fill="#57008f"/><polygon points="1209.6,173.8 1250.6,166.2 1221.9,151.4 1265.9,148.9 1257,128.7 1300,142 1312.3,120.2 1330.6,131.9 1365.7,111.4 1363.2,139 1400.3,126.4 1382.5,143 1438.8,143.5 1388.9,156.8 1402.3,166.2 1383,171.2 1409.2,187.5 1362.2,181.3 1367.7,198.8 1338.5,188.9 1332.1,202.5 1313.8,195.9 1301.5,207.2 1289.1,196.8 1261.5,216.3 1260,197.3 1222.9,195.4 1243.7,186" fill="#500091"/><polygon points="1217.7,172.8 1255.8,165.7 1229.2,152 1270,149.7 1261.8,130.9 1301.7,143.3 1313.2,123.1 1330.1,133.9 1362.7,114.9 1360.4,140.5 1394.8,128.8 1378.3,144.2 1430.6,144.6 1384.3,157 1396.6,165.7 1378.7,170.3 1403.1,185.5 1359.5,179.8 1364.5,196 1337.5,186.9 1331.5,199.4 1314.5,193.3 1303.1,203.8 1291.6,194.2 1265.9,212.3 1264.5,194.7 1230.1,192.8 1249.4,184.1" fill="#4a0092"/><polygon points="1225.9,171.8 1261,165.3 1236.5,152.6 1274.1,150.5 1266.5,133.1 1303.4,144.6 1314,125.9 1329.6,135.9 1359.7,118.3 1357.6,142 1389.3,131.2 1374.1,145.4 1422.4,145.8 1379.6,157.2 1391,165.3 1374.5,169.5 1397,183.5 1356.7,178.3 1361.4,193.2 1336.4,184.8 1330.9,196.4 1315.2,190.7 1304.7,200.4 1294.1,191.5 1270.4,208.2 1269.1,192 1237.3,190.3 1255.1,182.2" fill="#430094"/><polygon points="1234,170.8 1266.2,164.8 1243.8,153.2 1278.3,151.2 1271.3,135.3 1305.1,145.8 1314.8,128.7 1329.2,137.9 1356.7,121.8 1354.8,143.5 1383.9,133.6 1369.9,146.6 1414.2,147 1375,157.5 1385.4,164.8 1370.3,168.7 1390.9,181.5 1354,176.7 1358.2,190.4 1335.3,182.7 1330.3,193.3 1316,188.1 1306.2,197.1 1296.5,188.9 1274.8,204.2 1273.6,189.3 1244.5,187.8 1260.8,180.4" fill="#3c0096"/><polygon points="1242.2,169.8 1271.5,164.4 1251,153.8 1282.4,152 1276.1,137.6 1306.8,147.1 1315.6,131.6 1328.7,139.9 1353.7,125.3 1352,145 1378.4,135.9 1365.7,147.8 1405.9,148.1 1370.3,157.7 1379.8,164.4 1366,167.9 1384.8,179.6 1351.2,175.2 1355.1,187.7 1334.3,180.6 1329.7,190.3 1316.7,185.6 1307.8,193.7 1299,186.3 1279.2,200.2 1278.2,186.6 1251.7,185.2 1266.5,178.5" fill="#370095"/><polygon points="1250.3,168.8 1276.7,163.9 1258.3,154.4 1286.5,152.8 1280.8,139.8 1308.5,148.4 1316.4,134.4 1328.2,141.9 1350.7,128.7 1349.1,146.4 1372.9,138.3 1361.5,149 1397.7,149.3 1365.6,157.9 1374.2,163.9 1361.8,167.1 1378.7,177.6 1348.5,173.6 1352,184.9 1333.2,178.5 1329.1,187.2 1317.4,183 1309.4,190.3 1301.5,183.6 1283.7,196.1 1282.7,183.9 1258.9,182.7 1272.3,176.6" fill="#310094"/><polygon points="1258.5,167.8 1281.9,163.5 1265.6,155 1290.7,153.6 1285.6,142 1310.2,149.6 1317.2,137.2 1327.7,143.9 1347.7,132.2 1346.3,147.9 1367.5,140.7 1357.3,150.2 1389.5,150.5 1361,158.1 1368.6,163.5 1357.6,166.3 1372.6,175.6 1345.7,172.1 1348.8,182.1 1332.2,176.5 1328.5,184.2 1318.1,180.4 1311,186.9 1303.9,181 1288.1,192.1 1287.3,181.3 1266.1,180.1 1278,174.7" fill="#2c0093"/><polygon points="1266.6,166.8 1287.1,163 1272.8,155.6 1294.8,154.4 1290.4,144.2 1311.8,150.9 1318,140 1327.2,145.9 1344.7,135.6 1343.5,149.4 1362,143.1 1353.1,151.4 1381.3,151.6 1356.3,158.3 1363,163 1353.3,165.5 1366.4,173.6 1343,170.6 1345.7,179.3 1331.1,174.4 1327.9,181.1 1318.8,177.8 1312.6,183.5 1306.4,178.3 1292.6,188.1 1291.8,178.6 1273.3,177.6 1283.7,172.9" fill="#260092"/><polygon points="1274.8,165.8 1292.4,162.5 1280.1,156.2 1298.9,155.1 1295.1,146.5 1313.5,152.2 1318.8,142.9 1326.7,147.9 1341.7,139.1 1340.7,150.9 1356.5,145.5 1348.9,152.6 1373,152.8 1351.7,158.5 1357.4,162.5 1349.1,164.7 1360.3,171.7 1340.2,169 1342.5,176.5 1330.1,172.3 1327.3,178.1 1319.5,175.2 1314.2,180.1 1308.9,175.7 1297,184 1296.4,175.9 1280.5,175 1289.4,171" fill="#210091"/><polygon points="1282.9,164.8 1297.6,162.1 1287.4,156.8 1303.1,155.9 1299.9,148.7 1315.2,153.4 1319.6,145.7 1326.2,149.8 1338.7,142.5 1337.8,152.4 1351.1,147.9 1344.7,153.8 1364.8,154 1347,158.7 1351.8,162.1 1344.9,163.9 1354.2,169.7 1337.5,167.5 1339.4,173.7 1329,170.2 1326.7,175 1320.2,172.7 1315.8,176.7 1311.3,173 1301.5,180 1300.9,173.2 1287.7,172.5 1295.1,169.1" fill="#1b0091"/><polygon points="1291.1,163.8 1302.8,161.6 1294.6,157.4 1307.2,156.7 1304.6,150.9 1316.9,154.7 1320.5,148.5 1325.7,151.8 1335.7,146 1335,153.9 1345.6,150.3 1340.5,155 1356.6,155.1 1342.3,158.9 1346.1,161.6 1340.6,163 1348.1,167.7 1334.7,166 1336.3,170.9 1327.9,168.1 1326.1,172 1320.9,170.1 1317.4,173.3 1313.8,170.4 1305.9,175.9 1305.5,170.5 1294.9,170 1300.8,167.3" fill="#160090"/><polygon points="1299.2,162.8 1308,161.2 1301.9,158 1311.3,157.5 1309.4,153.1 1318.6,156 1321.3,151.3 1325.2,153.8 1332.7,149.4 1332.2,155.3 1340.1,152.6 1336.3,156.2 1348.4,156.3 1337.7,159.2 1340.5,161.2 1336.4,162.2 1342,165.7 1332,164.4 1333.1,168.2 1326.9,166 1325.5,168.9 1321.6,167.5 1318.9,170 1316.3,167.7 1310.4,171.9 1310,167.8 1302.1,167.4 1306.6,165.4" fill="#10008f"/><polygon points="1307.4,161.8 1313.3,160.7 1309.2,158.6 1315.4,158.2 1314.2,155.4 1320.3,157.3 1322.1,154.2 1324.7,155.8 1329.7,152.9 1329.4,156.8 1334.6,155 1332.1,157.4 1340.1,157.5 1333,159.4 1334.9,160.7 1332.2,161.4 1335.9,163.8 1329.2,162.9 1330,165.4 1325.8,164 1324.9,165.9 1322.3,165 1320.5,166.6 1318.8,165.1 1314.8,167.9 1314.6,165.2 1309.3,164.9 1312.3,163.5" fill="#0b008e"/><polygon points="1315.5,160.8 1318.5,160.3 1316.4,159.2 1319.6,159 1318.9,157.6 1322,158.5 1322.9,157 1324.2,157.8 1326.7,156.3 1326.5,158.3 1329.2,157.4 1327.9,158.6 1331.9,158.6 1328.4,159.6 1329.3,160.3 1327.9,160.6 1329.8,161.8 1326.5,161.3 1326.8,162.6 1324.8,161.9 1324.3,162.8 1323,162.4 1322.1,163.2 1321.2,162.4 1319.3,163.8 1319.1,162.5 1316.5,162.3 1318,161.7" fill="#05008d"/></g>
<g id="arrows" stroke-linejoin="miter"><path d="M732.3,319 L736.1,315.7 L739.9,312.5 L743.7,309.3 L747.6,306.1 L751.5,303 L755.5,300 L759.4,296.9 L763.4,293.9 L767.5,291 L771.5,288.1 L775.6,285.2 L779.7,282.4 L783.9,279.6 L788,276.9 L792.2,274.2 L796.5,271.6 L800.7,269 L805,266.4 L809.3,263.9 L813.6,261.5 L818,259 L822.3,256.7 L826.7,254.3 L831.2,252 L835.6,249.8 L840.1,247.6 L844.6,245.4 L849.1,243.3 L853.6,241.3 L858.2,239.3 L862.8,237.3 L867.4,235.4 L872,233.5 L876.6,231.6 L881.3,229.9 L885.9,228.1 L890.6,226.4 L895.3,224.8 L900.1,223.2 L904.8,221.7 L909.6,220.2 L910.5,219.9" fill="none" stroke="#0a9a0a" stroke-width="9.5"/><polygon points="943.3,211 909.6,240.1 899.6,202.4" fill="#0a9a0a"/><path d="M421.3,920 L579.5,689" fill="none" stroke="#ff0000" stroke-width="9.5"/><path d="M543.8,675 L620,701.3" stroke="#ff0000" stroke-width="9.5"/><path d="M1072.6,980.8 L1067.8,973.6 L1063,966.5 L1058.1,959.4 L1053.1,952.4 L1048.1,945.5 L1042.9,938.6 L1037.7,931.8 L1032.4,925.1 L1027.1,918.4 L1021.7,911.8 L1016.2,905.2 L1010.7,898.7 L1005.1,892.2 L999.5,885.8 L993.8,879.4 L988.1,873 L982.3,866.8 L976.4,860.5 L970.6,854.3 L964.7,848.1 L958.7,842 L952.7,835.9 L946.7,829.8 L940.6,823.7 L934.5,817.7 L928.4,811.7 L922.3,805.7 L916.1,799.8 L909.9,793.9 L903.7,788 L897.5,782.1 L891.2,776.2 L885,770.3 L878.7,764.5 L872.4,758.6 L866.1,752.8 L859.9,747 L853.6,741.1 L847.3,735.3 L841,729.5 L834.7,723.7 L828.5,717.8 L822.2,712 L815.9,706.2 L815.8,706.1" fill="none" stroke="#0a9a0a" stroke-width="9.5"/><polygon points="791.1,682.7 833.6,696 806.7,724.4" fill="#0a9a0a"/><path d="M1057,1142.9 L1039.9,1149.4 L1023.3,1155.5 L1007.2,1161.5 L991.6,1167.1 L976.4,1172.5 L961.8,1177.5 L947.6,1182.4 L934,1186.9 L920.8,1191.2 L908.1,1195.1 L895.9,1198.9 L884.2,1202.3 L873,1205.5 L862.2,1208.3 L852,1211 L842.2,1213.3 L833,1215.4 L824.2,1217.2 L815.9,1218.7 L808.1,1219.9 L800.8,1220.9 L794,1221.5 L787.6,1222 L781.8,1222.1 L766.8,1221.8 L751.7,1220.7 L736.6,1219 L721.6,1216.6 L706.5,1213.5 L691.3,1209.7 L676.2,1205.2 L661.1,1200.1 L645.9,1194.2 L630.8,1187.7 L615.6,1180.5 L600.4,1172.6 L585.2,1164 L570,1154.7 L554.7,1144.7 L539.5,1134.1 L524.2,1122.7 L508.9,1110.7 L493.7,1097.9 L478.4,1084.5 L463,1070.4 L447.7,1055.6 L440.6,1048.5" fill="none" stroke="#000" stroke-width="10.6"/><polygon points="417,1024 458.8,1039.4 430.6,1066.4" fill="#000"/><path d="M1043.9,1319.6 L1027.2,1312.1 L1011,1304.9 L995.3,1298 L980.1,1291.4 L965.4,1285.1 L951.2,1279.2 L937.6,1273.6 L924.4,1268.3 L911.7,1263.4 L899.5,1258.7 L887.8,1254.4 L876.7,1250.4 L866,1246.7 L855.8,1243.3 L846.2,1240.3 L837,1237.6 L828.4,1235.2 L820.2,1233.1 L812.5,1231.3 L805.4,1229.9 L798.7,1228.7 L792.6,1227.9 L786.9,1227.5 L781.8,1227.3 L770.1,1227.6 L758.1,1228.5 L745.8,1230 L733.1,1232.1 L720,1234.8 L706.6,1238.2 L692.9,1242.1 L678.8,1246.6 L664.4,1251.7 L649.6,1257.4 L634.5,1263.8 L619,1270.7 L603.2,1278.2 L587.1,1286.4 L570.6,1295.1 L553.7,1304.5 L536.5,1314.4 L519,1324.9 L501.1,1336.1 L482.9,1347.9 L464.3,1360.2 L445.4,1373.2 L434.1,1381.1" fill="none" stroke="#000" stroke-width="10.6"/><polygon points="406.5,1400.9 427.6,1361.7 450.4,1393.4" fill="#000"/><path d="M2232.3,1159.6 L2217.3,1165.5 L2202.7,1171.2 L2188.4,1176.7 L2174.4,1181.9 L2160.7,1186.8 L2147.4,1191.5 L2134.5,1195.9 L2121.8,1200.1 L2109.5,1204 L2097.6,1207.7 L2086,1211.1 L2074.7,1214.3 L2063.7,1217.2 L2053.1,1219.8 L2042.8,1222.2 L2032.9,1224.4 L2023.3,1226.3 L2014,1227.9 L2005.1,1229.3 L1996.5,1230.5 L1988.2,1231.4 L1980.3,1232 L1972.7,1232.4 L1965.4,1232.5 L1953.4,1232.1 L1941,1231.1 L1928.4,1229.3 L1915.5,1226.8 L1902.2,1223.6 L1888.6,1219.7 L1874.8,1215.1 L1860.6,1209.8 L1846.1,1203.8 L1831.3,1197 L1816.2,1189.6 L1800.8,1181.4 L1785,1172.6 L1769,1163 L1752.7,1152.7 L1736,1141.7 L1719.1,1130 L1701.8,1117.6 L1684.2,1104.5 L1666.3,1090.6 L1648.1,1076.1 L1629.6,1060.8 L1617.4,1050.5" fill="none" stroke="#000" stroke-width="10.6"/><polygon points="1591.7,1028.2 1634.7,1039.7 1609.1,1069.2" fill="#000"/><path d="M2215.6,1326.3 L2201.4,1318.9 L2187.5,1311.7 L2173.9,1304.9 L2160.7,1298.4 L2147.7,1292.3 L2135.2,1286.4 L2122.9,1280.9 L2111,1275.6 L2099.4,1270.7 L2088.2,1266.1 L2077.2,1261.9 L2066.7,1257.9 L2056.4,1254.3 L2046.5,1250.9 L2036.9,1247.9 L2027.6,1245.2 L2018.7,1242.9 L2010.1,1240.8 L2001.8,1239.1 L1993.8,1237.6 L1986.2,1236.5 L1979,1235.7 L1972,1235.3 L1965.4,1235.1 L1952,1235.4 L1938.3,1236.3 L1924.3,1237.9 L1910.1,1240 L1895.6,1242.8 L1880.8,1246.2 L1865.8,1250.2 L1850.5,1254.8 L1834.9,1260 L1819.1,1265.9 L1803,1272.3 L1786.6,1279.4 L1770,1287.1 L1753.1,1295.4 L1735.9,1304.3 L1718.5,1313.9 L1700.8,1324 L1682.8,1334.8 L1664.5,1346.2 L1646,1358.2 L1627.2,1370.8 L1608.2,1384 L1596.7,1392.2" fill="none" stroke="#000" stroke-width="10.6"/><polygon points="1569.3,1412.3 1590,1372.9 1613.1,1404.3" fill="#000"/><path d="M1496.3,1396.3 L1489,1392 L1481.7,1387.7 L1474.4,1383.3 L1467.2,1378.8 L1460,1374.3 L1452.8,1369.8 L1445.6,1365.2 L1438.5,1360.6 L1431.4,1356 L1424.4,1351.3 L1417.3,1346.5 L1410.3,1341.7 L1403.3,1336.9 L1396.4,1332 L1389.4,1327.1 L1382.5,1322.1 L1375.7,1317.1 L1368.8,1312 L1362,1306.9 L1355.3,1301.8 L1348.5,1296.6 L1341.8,1291.4 L1335.1,1286.1 L1328.5,1280.8 L1321.9,1275.5 L1315.3,1270.1 L1308.8,1264.7 L1302.2,1259.2 L1295.8,1253.7 L1289.3,1248.2 L1282.9,1242.6 L1276.5,1237 L1270.2,1231.3 L1263.9,1225.6 L1257.6,1219.9 L1251.4,1214.1 L1245.2,1208.3 L1239,1202.5 L1232.9,1196.6 L1226.8,1190.7 L1220.8,1184.7 L1214.8,1178.7 L1208.8,1172.7 L1202.9,1166.7" fill="none" stroke="#0a9a0a" stroke-width="9.5"/><polygon points="1179.5,1142 1221.1,1157.7 1192.8,1184.5" fill="#0a9a0a"/><path d="M2998,1438.2 L2976.6,1454.6 L2954.9,1470.2 L2932.8,1485 L2910.5,1499.1 L2888,1512.5 L2865.1,1525.2 L2842.1,1537.1 L2818.7,1548.4 L2795.2,1559 L2771.4,1569 L2747.4,1578.4 L2723.2,1587.1 L2698.8,1595.3 L2674.2,1602.9 L2649.4,1609.9 L2624.4,1616.3 L2599.3,1622.3 L2574.1,1627.7 L2548.7,1632.7 L2523.2,1637.2 L2497.5,1641.2 L2471.8,1644.8 L2445.9,1647.9 L2419.9,1650.7 L2393.9,1653 L2367.8,1655 L2341.6,1656.7 L2315.4,1658 L2289.1,1658.9 L2262.8,1659.6 L2236.4,1660 L2210,1660.1 L2183.7,1659.9 L2157.3,1659.5 L2130.9,1658.9 L2104.6,1658.1 L2078.3,1657.1 L2052,1655.9 L2025.8,1654.6 L1999.6,1653.1 L1973.5,1651.5 L1947.5,1649.8 L1921.5,1648.1 L1895.7,1646.2 L1869.9,1644.3 L1844.3,1642.4 L1818.8,1640.5 L1793.4,1638.5" fill="none" stroke="#1cb0f0" stroke-width="10.3" stroke-dasharray="40 30.5"/><path d="M1120,1176.3 L1124,1181.3 L1128.9,1187.7 L1134.7,1195.1 L1141.3,1203.5 L1148.4,1212.7 L1156,1222.3 L1164,1232.3 L1172.2,1242.3 L1180.5,1252.3 L1188.8,1262 L1197.5,1271.9 L1206.9,1282.5 L1217,1293.5 L1227.3,1304.8 L1237.8,1316.1 L1248.2,1327.3 L1258.3,1338 L1267.8,1348.2 L1276.6,1357.5 L1284.5,1365.8 L1291.1,1372.8 L1296.6,1378.6 L1301.3,1383.5 L1305.4,1387.8 L1309.2,1391.7 L1313.1,1395.5 L1317.3,1399.6 L1322.2,1404.1 L1328,1409.4 L1335,1415.8 L1343.4,1423.4 L1353.1,1432 L1363.7,1441.3 L1375,1451.2 L1386.6,1461.2 L1398.2,1471.2 L1409.5,1480.9 L1420.3,1490.1 L1430.2,1498.4 L1439,1505.6 L1446.6,1511.7 L1453.4,1517 L1459.5,1521.6 L1465.1,1525.7 L1470.3,1529.5 L1475.3,1532.9 L1480.3,1536.3 L1485.3,1539.7 L1490.7,1543.3 L1496.4,1547.3 L1502.4,1551.6 L1508.6,1556 L1514.8,1560.5 L1521,1565 L1527.3,1569.4 L1533.7,1573.8 L1540,1578 L1546.3,1582 L1552.6,1585.7 L1558.9,1589 L1565.1,1592 L1571.2,1594.6 L1577.3,1597 L1583.4,1599.1 L1589.5,1601.1 L1595.6,1602.9 L1601.9,1604.6 L1608.2,1606.4 L1614.7,1608.1 L1621.4,1609.9 L1628.2,1611.7 L1634.9,1613.5 L1641.7,1615.2 L1648.6,1616.9 L1655.6,1618.5 L1662.8,1620 L1670.3,1621.6 L1678,1623.1 L1686,1624.6 L1694.4,1626 L1703.7,1627.5 L1714.1,1628.9 L1725.3,1630.4 L1736.9,1631.9 L1748.5,1633.3 L1759.7,1634.6 L1770.2,1635.8 L1779.5,1636.9 L1787.4,1637.8 L1793.4,1638.5" fill="none" stroke="#1cb0f0" stroke-width="10.3" stroke-dasharray="40 30.5"/><path d="M1072.5,1188.8 L1173,1160.5" stroke="#1cb0f0" stroke-width="10.3"/><path d="M835.2,1386.9 L843.5,1389.4 L864,1395.5 L884.4,1401.6 L904.9,1407.8 L925.3,1414.1 L945.8,1420.4 L966.2,1426.7 L986.6,1433.1 L1007,1439.5 L1027.4,1446 L1047.8,1452.5 L1068.2,1458.9 L1088.6,1465.4 L1109,1471.9 L1129.4,1478.4 L1149.8,1484.8 L1170.2,1491.2 L1190.7,1497.6 L1211.1,1504 L1231.5,1510.3 L1252,1516.6 L1272.5,1522.8 L1293,1528.9 L1313.5,1535 L1334,1540.9 L1354.5,1546.8 L1375.1,1552.6 L1395.7,1558.3 L1416.3,1563.9 L1437,1569.4 L1457.6,1574.8 L1478.3,1580 L1499.1,1585.1 L1519.8,1590.1 L1540.6,1594.9 L1561.4,1599.5 L1582.3,1604 L1603.2,1608.4 L1624.2,1612.5 L1645.2,1616.5 L1666.2,1620.2 L1687.3,1623.8 L1708.4,1627.2 L1729.6,1630.3 L1750.8,1633.3 L1772.1,1636 L1793.4,1638.5" fill="none" stroke="#1cb0f0" stroke-width="10.3" stroke-dasharray="40 30.5"/><polygon points="802.5,1377.5 846.3,1369.9 835.5,1407.3" fill="#1cb0f0"/><path d="M702,1675 L745,1411.3" fill="none" stroke="#ff0000" stroke-width="9.5"/><path d="M703.8,1409.5 L788.8,1411.8" stroke="#ff0000" stroke-width="9.5"/><path d="M791.3,1690.5 L987.5,1490" fill="none" stroke="#ff0000" stroke-width="9.5"/><path d="M952.5,1470 L1023.8,1508.3" stroke="#ff0000" stroke-width="9.5"/><path d="M1967.9,437.5 L1967.4,441.3 L1966.7,446.2 L1965.9,452.1 L1965,458.6 L1964.1,465.6 L1963.1,472.9 L1962.2,480.2 L1961.4,487.3 L1960.6,494 L1960,500 L1959.5,505.5 L1959.1,510.7 L1958.7,515.7 L1958.4,520.6 L1958.1,525.4 L1957.9,530.1 L1957.8,534.9 L1957.7,539.8 L1957.6,544.8 L1957.6,550 L1957.7,555.4 L1957.8,561.1 L1957.9,566.9 L1958.2,572.7 L1958.4,578.6 L1958.8,584.5 L1959.1,590.2 L1959.5,595.9 L1959.9,601.3 L1960.4,606.4 L1960.9,611.4 L1961.5,616.2 L1962.1,621 L1962.7,625.7 L1963.4,630.2 L1964.1,634.6 L1964.8,638.7 L1965.6,642.6 L1966.3,646.3 L1967,649.6 L1967.6,652.3 L1968.1,654.3 L1968.6,655.7 L1969,656.8 L1969.4,657.8 L1970,659 L1970.8,660.6 L1971.7,662.8 L1972.9,665.9 L1974.5,670 L1976.3,675.1 L1978.1,680.7 L1980,686.9 L1982.1,693.7 L1984.5,700.9 L1987.1,708.8 L1990.2,717.1 L1993.6,725.9 L1997.5,735.2 L2002,745 L2007.1,755.5 L2012.8,766.8 L2019,778.9 L2025.7,791.5 L2032.7,804.5 L2039.9,817.8 L2047.4,831.1 L2054.9,844.4 L2062.3,857.6 L2069.7,870.3 L2077.3,883.2 L2085.3,896.5 L2093.7,910.2 L2102.2,924 L2110.7,937.6 L2119.1,950.8 L2127.1,963.4 L2134.7,975.2 L2141.6,986 L2147.8,995.4 L2153.3,1003.6 L2158.3,1010.9 L2163,1017.4 L2163.5,1018" fill="none" stroke="#4472c4" stroke-width="8.6" stroke-dasharray="42 28.5"/><polygon points="2184.3,1044.9 2144.3,1025.4 2175,1001.4" fill="#4472c4"/><path d="M2210,414 L2208.5,420.6 L2207,427.1 L2205.7,433.7 L2204.5,440.3 L2203.4,446.9 L2202.4,453.5 L2201.6,460.1 L2200.8,466.7 L2200.1,473.3 L2199.5,479.9 L2198.9,486.6 L2198.5,493.2 L2198.1,499.8 L2197.9,506.5 L2197.6,513.1 L2197.5,519.8 L2197.4,526.5 L2197.4,533.1 L2197.5,539.8 L2197.6,546.5 L2197.7,553.1 L2197.9,559.8 L2198.1,566.5 L2198.4,573.1 L2198.8,579.8 L2199.1,586.5 L2199.5,593.2 L2199.9,599.9 L2200.4,606.6 L2200.8,613.2 L2201.3,619.9 L2201.8,626.6 L2202.3,633.3 L2202.8,640 L2203.3,646.6 L2203.9,653.3 L2204.4,660 L2204.9,666.7 L2205.4,673.3 L2205.9,680 L2206.3,686.7 L2206.8,693.3 L2207.1,699.2" fill="none" stroke="#4472c4" stroke-width="8.6"/><polygon points="2208.8,733.2 2187.4,694.2 2226.4,692.3" fill="#4472c4"/><path d="M2243.2,866.6 L2244.4,870.3 L2245.6,874 L2246.8,877.7 L2247.9,881.4 L2248.9,885.1 L2250,888.9 L2250.9,892.6 L2251.9,896.4 L2252.8,900.1 L2253.6,903.9 L2254.5,907.7 L2255.2,911.5 L2256,915.2 L2256.7,919 L2257.4,922.9 L2258,926.7 L2258.6,930.5 L2259.2,934.3 L2259.8,938.1 L2260.3,942 L2260.8,945.8 L2261.2,949.6 L2261.6,953.5 L2262,957.3 L2262.4,961.2 L2262.8,965 L2263.1,968.9 L2263.4,972.8 L2263.6,976.6 L2263.9,980.5 L2264.1,984.4 L2264.3,988.2 L2264.5,992.1 L2264.7,996 L2264.8,999.9 L2264.9,1003.7 L2265,1007.6 L2265.1,1011.5 L2265.2,1015.3 L2265.2,1016.1" fill="none" stroke="#0a9a0a" stroke-width="9.5"/><polygon points="2265.1,1050.1 2245.8,1010 2284.8,1010.2" fill="#0a9a0a"/><path d="M2474.5,382.3 L2299,444.3" fill="none" stroke="#ff0000" stroke-width="9.5"/><path d="M2284.4,406.5 L2313.6,482.1" stroke="#ff0000" stroke-width="9.5"/><path d="M2895.7,367.4 L2894.6,374.9 L2893.4,382.4 L2892,389.8 L2890.5,397.2 L2888.8,404.6 L2887.1,411.9 L2885.1,419.2 L2883.1,426.4 L2880.9,433.6 L2878.6,440.8 L2876.2,447.9 L2873.6,455 L2870.9,462.1 L2868.1,469.1 L2865.2,476 L2862.2,482.9 L2859,489.8 L2855.8,496.6 L2852.4,503.3 L2848.9,510.1 L2845.4,516.7 L2841.7,523.3 L2837.9,529.9 L2834,536.4 L2830.1,542.8 L2826,549.2 L2821.8,555.5 L2817.6,561.8 L2813.2,568 L2808.8,574.2 L2804.3,580.3 L2799.7,586.3 L2795.1,592.3 L2790.3,598.2 L2785.5,604.1 L2780.6,609.9 L2775.6,615.6 L2770.6,621.2 L2765.5,626.8 L2760.3,632.3 L2755.1,637.8 L2749.8,643.2 L2744.5,648.5 L2741.9,650.9" fill="none" stroke="#4472c4" stroke-width="8.6"/><polygon points="2716.9,673.9 2733.4,632.6 2759.6,661.4" fill="#4472c4"/><path d="M3210.5,452.4 L3210.9,460.4 L3211.5,468.3 L3212.3,476.2 L3213.2,484 L3214.3,491.7 L3215.6,499.4 L3217,507.1 L3218.6,514.6 L3220.3,522.2 L3222.1,529.7 L3224.1,537.1 L3226.2,544.5 L3228.4,551.9 L3230.8,559.2 L3233.2,566.5 L3235.8,573.8 L3238.5,581 L3241.2,588.2 L3244.1,595.3 L3247,602.4 L3250,609.5 L3253.1,616.6 L3256.3,623.6 L3259.5,630.7 L3262.8,637.7 L3266.1,644.7 L3269.5,651.6 L3272.9,658.6 L3276.4,665.5 L3279.9,672.4 L3283.4,679.4 L3287,686.3 L3290.5,693.2 L3294.1,700.1 L3297.7,707 L3301.3,713.9 L3304.8,720.8 L3308.4,727.7 L3311.9,734.6 L3315.5,741.5 L3319,748.4 L3322.4,755.4 L3325.9,762.3 L3327.9,766.5" fill="none" stroke="#4472c4" stroke-width="8.6"/><polygon points="3342.3,797.3 3307.8,769.2 3343.2,752.8" fill="#4472c4"/><path d="M3532.6,243.9 L3368.4,333.6" fill="none" stroke="#ff0000" stroke-width="9.5"/><path d="M3347.5,298 L3389.2,370" stroke="#ff0000" stroke-width="9.5"/><path d="M3179.9,910.1 L3172.5,909.5 L3165.1,908.8 L3157.8,907.8 L3150.5,906.8 L3143.2,905.6 L3136,904.2 L3128.9,902.7 L3121.7,901.1 L3114.7,899.3 L3107.6,897.4 L3100.6,895.4 L3093.6,893.3 L3086.7,891 L3079.8,888.6 L3073,886.2 L3066.1,883.6 L3059.3,880.9 L3052.6,878.2 L3045.8,875.3 L3039.1,872.4 L3032.5,869.3 L3025.8,866.2 L3019.2,863.1 L3012.6,859.8 L3006.1,856.5 L2999.5,853.2 L2993,849.7 L2986.5,846.3 L2980,842.7 L2973.6,839.2 L2967.2,835.6 L2960.8,831.9 L2954.4,828.3 L2948,824.6 L2941.6,820.8 L2935.3,817.1 L2929,813.3 L2922.7,809.6 L2916.4,805.8 L2910.1,802 L2903.8,798.3 L2897.6,794.5 L2891.3,790.7 L2889.5,789.6" fill="none" stroke="#0a9a0a" stroke-width="9.5"/><polygon points="2860.2,772.3 2904.6,775.9 2884.7,809.4" fill="#0a9a0a"/><path d="M3185.4,1279.4 L3323,1001.8" fill="none" stroke="#ff0000" stroke-width="9.5"/><path d="M3285,988 L3364.3,1008.7" stroke="#ff0000" stroke-width="9.5"/><path d="M2628.8,851.3 L2626.2,859.3 L2623.4,867.1 L2620.4,874.7 L2617.1,882.1 L2613.6,889.3 L2609.9,896.3 L2606,903.1 L2601.9,909.7 L2597.5,916.2 L2593,922.5 L2588.3,928.7 L2583.4,934.6 L2578.4,940.5 L2573.2,946.2 L2567.8,951.7 L2562.3,957.2 L2556.7,962.5 L2550.9,967.6 L2545,972.7 L2539,977.7 L2532.9,982.5 L2526.6,987.3 L2520.3,991.9 L2513.9,996.5 L2507.3,1001 L2500.8,1005.4 L2494.1,1009.7 L2487.4,1014 L2480.6,1018.2 L2473.8,1022.4 L2466.9,1026.5 L2460.1,1030.5 L2453.1,1034.6 L2446.2,1038.6 L2439.3,1042.6 L2432.3,1046.5 L2425.4,1050.4 L2418.4,1054.4 L2411.5,1058.3 L2404.6,1062.2 L2397.7,1066.2 L2390.9,1070.1 L2384.1,1074.1 L2380,1076.5" fill="none" stroke="#000" stroke-width="10.6"/><polygon points="2351.1,1094.4 2374.7,1056.7 2395.4,1089.8" fill="#000"/><path d="M2592.5,922.5 L2589.5,930.8 L2586.7,939.2 L2584.1,947.6 L2581.8,956.1 L2579.8,964.6 L2577.9,973.1 L2576.3,981.7 L2575,990.3 L2573.8,998.9 L2572.8,1007.5 L2572.1,1016.2 L2571.5,1024.9 L2571.2,1033.6 L2571,1042.3 L2571,1051 L2571.2,1059.8 L2571.6,1068.5 L2572.1,1077.2 L2572.8,1086 L2573.7,1094.8 L2574.7,1103.5 L2575.8,1112.3 L2577.1,1121 L2578.6,1129.8 L2580.1,1138.5 L2581.8,1147.2 L2583.7,1155.9 L2585.6,1164.6 L2587.6,1173.3 L2589.8,1181.9 L2592,1190.6 L2594.4,1199.2 L2596.8,1207.8 L2599.3,1216.3 L2601.9,1224.8 L2604.6,1233.3 L2607.3,1241.7 L2610.1,1250.2 L2613,1258.5 L2615.9,1266.8 L2618.8,1275.1 L2621.8,1283.3 L2624.9,1291.5 L2627.9,1299.7 L2628,1299.9" fill="none" stroke="#000" stroke-width="10.6"/><polygon points="2640.4,1331.6 2607.6,1301.5 2643.9,1287.2" fill="#000"/><path d="M2558.5,1347.2 L2552.4,1344.9 L2546.3,1342.5 L2540.3,1340 L2534.3,1337.5 L2528.3,1334.8 L2522.4,1332.1 L2516.6,1329.2 L2510.8,1326.3 L2505.1,1323.3 L2499.3,1320.2 L2493.7,1317 L2488.1,1313.8 L2482.5,1310.5 L2477,1307.1 L2471.5,1303.6 L2466,1300.1 L2460.6,1296.5 L2455.3,1292.8 L2450,1289.1 L2444.7,1285.3 L2439.5,1281.5 L2434.3,1277.5 L2429.1,1273.6 L2424,1269.6 L2418.9,1265.5 L2413.9,1261.3 L2408.9,1257.2 L2403.9,1252.9 L2399,1248.7 L2394.1,1244.3 L2389.3,1240 L2384.5,1235.6 L2379.7,1231.1 L2374.9,1226.7 L2370.2,1222.2 L2365.6,1217.6 L2360.9,1213 L2356.3,1208.4 L2351.7,1203.8 L2347.2,1199.1 L2342.7,1194.4 L2338.2,1189.7 L2334.9,1186.2" fill="none" stroke="#0a9a0a" stroke-width="9.5"/><polygon points="2312,1161.1 2353.3,1177.6 2324.5,1203.8" fill="#0a9a0a"/><path d="M2806.9,1828.1 L2813.8,1821.1 L2820.6,1814.1 L2827.3,1806.9 L2833.8,1799.7 L2840.2,1792.4 L2846.5,1785 L2852.7,1777.6 L2858.8,1770 L2864.7,1762.4 L2870.6,1754.8 L2876.4,1747.1 L2882.1,1739.3 L2887.7,1731.4 L2893.2,1723.5 L2898.6,1715.6 L2904,1707.6 L2909.3,1699.6 L2914.5,1691.5 L2919.7,1683.3 L2924.8,1675.2 L2929.8,1667 L2934.8,1658.7 L2939.8,1650.5 L2944.7,1642.2 L2949.6,1633.9 L2954.4,1625.5 L2959.2,1617.2 L2964,1608.8 L2968.7,1600.4 L2973.5,1592 L2978.2,1583.6 L2982.9,1575.1 L2987.7,1566.7 L2992.4,1558.3 L2997.1,1549.9 L3001.8,1541.5 L3006.6,1533 L3011.3,1524.6 L3016.1,1516.2 L3020.9,1507.9 L3025.7,1499.5 L3030.6,1491.2 L3035.5,1482.8 L3040.4,1474.6 L3043.6,1469.2" fill="none" stroke="#4472c4" stroke-width="8.6"/><polygon points="3060.6,1441.7 3055.9,1483.5 3025.3,1464.5" fill="#4472c4"/><path d="M2826,1851.7 L2833,1844.5 L2840,1837.3 L2846.9,1830 L2853.7,1822.6 L2860.6,1815.3 L2867.3,1807.8 L2874.1,1800.4 L2880.7,1792.9 L2887.4,1785.3 L2893.9,1777.7 L2900.5,1770.1 L2906.9,1762.4 L2913.4,1754.6 L2919.7,1746.9 L2926.1,1739 L2932.3,1731.2 L2938.6,1723.3 L2944.7,1715.3 L2950.8,1707.4 L2956.9,1699.3 L2962.9,1691.3 L2968.8,1683.2 L2974.7,1675 L2980.5,1666.8 L2986.3,1658.6 L2992,1650.4 L2997.7,1642 L3003.3,1633.7 L3008.8,1625.3 L3014.3,1616.9 L3019.7,1608.4 L3025.1,1600 L3030.4,1591.4 L3035.6,1582.8 L3040.8,1574.2 L3045.9,1565.6 L3051,1556.9 L3056,1548.2 L3060.9,1539.4 L3065.8,1530.7 L3070.6,1521.8 L3075.3,1513 L3080,1504.1 L3084.6,1495.2 L3088.1,1488.1" fill="none" stroke="#4472c4" stroke-width="8.6" stroke-dasharray="42 28.5"/><polygon points="3102.3,1459.1 3101.9,1501.1 3069.5,1485.4" fill="#4472c4"/><path d="M3550.8,1416 L3540.5,1431.2 L3529.8,1445.9 L3518.8,1460.3 L3507.5,1474.3 L3495.8,1487.9 L3483.8,1501.2 L3471.5,1514.1 L3458.9,1526.6 L3446,1538.8 L3432.8,1550.7 L3419.4,1562.3 L3405.7,1573.6 L3391.8,1584.6 L3377.7,1595.3 L3363.3,1605.8 L3348.7,1616 L3333.9,1626 L3319,1635.7 L3303.8,1645.2 L3288.5,1654.5 L3273,1663.6 L3257.4,1672.5 L3241.6,1681.2 L3225.7,1689.8 L3209.7,1698.2 L3193.6,1706.5 L3177.4,1714.6 L3161.2,1722.7 L3144.8,1730.6 L3128.4,1738.4 L3111.9,1746.1 L3095.4,1753.7 L3078.9,1761.3 L3062.4,1768.8 L3045.8,1776.3 L3029.3,1783.7 L3012.7,1791.1 L2996.2,1798.5 L2979.7,1805.9 L2963.3,1813.3 L2946.9,1820.8 L2930.6,1828.2 L2914.3,1835.7 L2898.2,1843.3 L2882.1,1850.9 L2866.7,1858.4" fill="none" stroke="#0a9a0a" stroke-width="9.5" stroke-dasharray="42 28.5"/><polygon points="2834.7,1874.3 2863.6,1838.1 2881,1873" fill="#0a9a0a"/><path d="M2493.8,2008.5 V1897.8 H2760" fill="none" stroke="#000" stroke-width="11" stroke-linejoin="round"/><polygon points="2795.3,1897.8 2755.7,1877.9 2755.7,1917.7" fill="#000"/><path d="M3355.9,1694.1 L3359.5,1692.6 L3363.1,1691.2 L3366.7,1689.9 L3370.3,1688.7 L3373.9,1687.6 L3377.5,1686.5 L3381.2,1685.5 L3384.9,1684.6 L3388.5,1683.7 L3392.2,1682.9 L3395.9,1682.2 L3399.6,1681.6 L3403.4,1681 L3407.1,1680.5 L3410.8,1680 L3414.6,1679.7 L3418.3,1679.3 L3422.1,1679 L3425.8,1678.8 L3429.6,1678.7 L3433.4,1678.5 L3437.2,1678.5 L3440.9,1678.5 L3444.7,1678.5 L3448.5,1678.6 L3452.3,1678.7 L3456.1,1678.8 L3459.9,1679 L3463.6,1679.3 L3467.4,1679.5 L3471.2,1679.9 L3475,1680.2 L3478.8,1680.6 L3482.5,1681 L3486.3,1681.4 L3490.1,1681.9 L3493.8,1682.4 L3497.6,1682.9 L3500.3,1683.3" fill="none" stroke="#0a9a0a" stroke-width="9.5"/><polygon points="3534.7,1688.9 3491.1,1701.1 3497.4,1663.1" fill="#0a9a0a"/><path d="M3356.7,1808.3 L3519.6,1816.1" fill="none" stroke="#ff0000" stroke-width="9.5"/><path d="M3519.6,1795.8 L3519.6,1835.5" stroke="#ff0000" stroke-width="9.5"/><path d="M3356.7,1929.4 L3360.4,1928.1 L3364.1,1926.8 L3367.9,1925.7 L3371.6,1924.7 L3375.4,1923.8 L3379.1,1922.9 L3382.9,1922.2 L3386.6,1921.6 L3390.4,1921 L3394.2,1920.6 L3398,1920.2 L3401.7,1919.9 L3405.5,1919.7 L3409.3,1919.6 L3413.1,1919.5 L3416.9,1919.5 L3420.7,1919.6 L3424.5,1919.7 L3428.3,1919.9 L3432.1,1920.2 L3435.8,1920.5 L3439.6,1920.9 L3443.4,1921.3 L3447.2,1921.8 L3451,1922.3 L3454.8,1922.9 L3458.6,1923.5 L3462.4,1924.2 L3466.1,1924.8 L3469.9,1925.6 L3473.7,1926.3 L3477.5,1927.1 L3481.2,1927.9 L3485,1928.7 L3488.7,1929.5 L3492.5,1930.4 L3496.2,1931.3 L3499.9,1932.1 L3502.1,1932.7" fill="none" stroke="#4472c4" stroke-width="8.6"/><polygon points="3536.8,1941 3491.4,1950.2 3500.5,1912.2" fill="#4472c4"/><path d="M3356.7,2074.6 L3360.3,2073.3 L3363.9,2072.1 L3367.6,2070.9 L3371.2,2069.8 L3374.9,2068.8 L3378.5,2067.9 L3382.2,2067 L3385.9,2066.2 L3389.6,2065.4 L3393.3,2064.7 L3397,2064.1 L3400.7,2063.5 L3404.4,2063 L3408.1,2062.5 L3411.8,2062.1 L3415.6,2061.8 L3419.3,2061.4 L3423,2061.2 L3426.8,2060.9 L3430.5,2060.7 L3434.3,2060.6 L3438.1,2060.4 L3441.8,2060.4 L3445.6,2060.3 L3449.3,2060.3 L3453.1,2060.3 L3456.9,2060.3 L3460.7,2060.4 L3464.4,2060.5 L3468.2,2060.6 L3472,2060.7 L3475.8,2060.8 L3479.5,2061 L3483.3,2061.2 L3487.1,2061.4 L3490.9,2061.6 L3494.6,2061.8 L3498.4,2062 L3501.2,2062.1" fill="none" stroke="#000" stroke-width="10.6"/><polygon points="3536,2063.9 3494,2081.8 3496.1,2041.9" fill="#000"/><path d="M3356.7,2227.6 V2182.4 H3500" fill="none" stroke="#000" stroke-width="10.5" stroke-linejoin="round"/><polygon points="3534.7,2182.4 3495.5,2162.2 3495.5,2202.6" fill="#000"/></g>
<g id="text"><text x="388.8" y="408.9" font-size="80.9">Lipid peroxidation</text><text x="1101.7" y="205.7" font-size="71.1" font-weight="bold" fill="#ffff00">Ferroptosis</text><text x="1023.2" y="725.5" font-size="80.8" font-weight="bold">Tubular cell</text><text x="1633.3" y="668" font-size="70.8">DMT1/ZIP</text><text x="2268.7" y="668" font-size="65.8">TfR1</text><text x="302.3" y="1001.3" font-size="81.5">PLOH</text><text x="939.5" y="1098.6" font-size="81.5">PLOOH</text><text x="639.7" y="1346" font-size="79.5">GPX4</text><text x="970.5" y="1430.6" font-size="81.9">GSH</text><text x="282.5" y="1473.8" font-size="82">GSSG</text><text x="1835.1" y="1323.5" font-size="67.2">Fenton</text><text x="1808.4" y="1404.6" font-size="66.6">Reaction</text><text x="1483.1" y="1485.5" font-size="82">OH</text><rect x="1466.7" y="1453.4" width="7.8" height="7.8"/><text x="2545.2" y="1430" font-size="80.4">Ferritin</text><text x="1776.8" y="1620" font-size="80.5">Other unknown ways</text><text x="1975.7" y="1876.7" font-size="81.5" font-weight="bold">Nucleus</text><text x="2279.5" y="2118" font-size="80.9">Hp, HIF etc.</text><text x="3547.6" y="1709" font-size="72">Promotion</text><text x="3546.9" y="1836.6" font-size="72.4">Inhibition</text><text x="3549.4" y="1964.3" font-size="71.6">Transportation</text><text x="3547.6" y="2092" font-size="72.2">Reaction</text><text x="3549.4" y="2218.6" font-size="71.8">Transcription</text><text x="3522.8" y="118.6" font-size="67.1">Hepatogenic</text><text x="1455.6" y="1017.3" font-size="81"><tspan>Fe</tspan><tspan dy="-24.3" font-size="53.5">3+</tspan></text><text x="2195.3" y="1131.7" font-size="81"><tspan>Fe</tspan><tspan dy="-24.3" font-size="53.5">2+</tspan></text><text x="2161.8" y="1423.2" font-size="81"><tspan>H</tspan><tspan dy="19" font-size="53.5">2</tspan><tspan dy="-19" font-size="81">O</tspan><tspan dy="19" font-size="53.5">2</tspan></text><text transform="translate(2514.3,948.7) rotate(-46)" font-size="81">HO</text><text transform="translate(2992.9,1782.6) rotate(-58.7)" font-size="81">Hypoxia</text></g>
</svg>
</body></html>
